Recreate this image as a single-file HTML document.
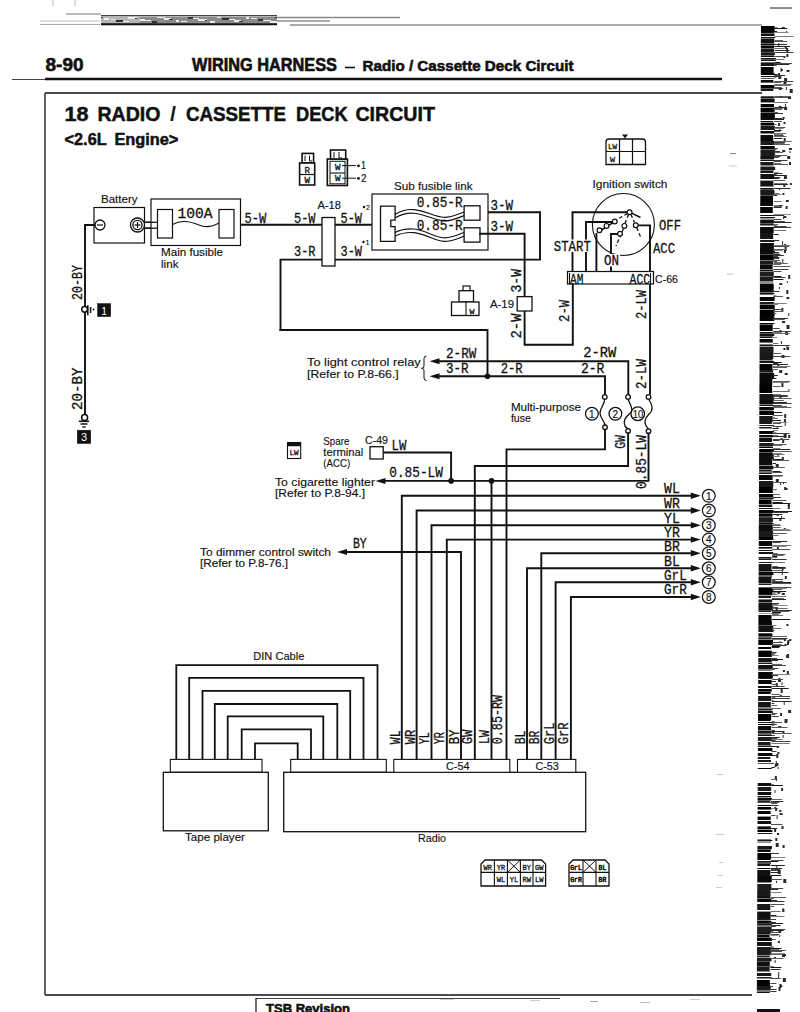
<!DOCTYPE html>
<html><head><meta charset="utf-8"><style>
html,body{margin:0;padding:0;background:#fff;}
body{width:800px;height:1012px;overflow:hidden;}
svg{display:block;}
</style></head><body>
<svg width="800" height="1012" viewBox="0 0 800 1012" style="font-family:'Liberation Sans',sans-serif">
<rect x="0" y="0" width="800" height="1012" fill="#fff"/>
<line x1="290" y1="25" x2="762" y2="25" stroke="#555" stroke-width="1.0"/>
<rect x="101" y="16" width="176" height="8" fill="#b5b5b5"/>
<rect x="140" y="17" width="137" height="6" fill="#8a8a8a"/>
<rect x="101" y="17" width="2" height="1" fill="#333"/>
<rect x="142" y="19" width="3" height="2" fill="#eee"/>
<rect x="183" y="21" width="4" height="1" fill="#eee"/>
<rect x="224" y="18" width="5" height="2" fill="#333"/>
<rect x="265" y="20" width="6" height="1" fill="#eee"/>
<rect x="130" y="17" width="7" height="2" fill="#eee"/>
<rect x="171" y="19" width="2" height="1" fill="#333"/>
<rect x="212" y="21" width="3" height="2" fill="#eee"/>
<rect x="253" y="18" width="4" height="1" fill="#eee"/>
<rect x="118" y="20" width="5" height="2" fill="#333"/>
<rect x="159" y="17" width="6" height="1" fill="#eee"/>
<rect x="200" y="19" width="7" height="2" fill="#eee"/>
<rect x="241" y="21" width="2" height="1" fill="#333"/>
<rect x="106" y="18" width="3" height="2" fill="#eee"/>
<rect x="147" y="20" width="4" height="1" fill="#eee"/>
<rect x="188" y="17" width="5" height="2" fill="#333"/>
<rect x="229" y="19" width="6" height="1" fill="#eee"/>
<rect x="270" y="21" width="7" height="2" fill="#eee"/>
<rect x="135" y="18" width="2" height="1" fill="#333"/>
<rect x="176" y="20" width="3" height="2" fill="#eee"/>
<rect x="217" y="17" width="4" height="1" fill="#eee"/>
<rect x="258" y="19" width="5" height="2" fill="#333"/>
<rect x="123" y="21" width="6" height="1" fill="#eee"/>
<rect x="164" y="18" width="7" height="2" fill="#eee"/>
<rect x="205" y="20" width="2" height="1" fill="#333"/>
<rect x="246" y="17" width="3" height="2" fill="#eee"/>
<rect x="111" y="19" width="4" height="1" fill="#eee"/>
<rect x="152" y="21" width="5" height="2" fill="#333"/>
<rect x="193" y="18" width="6" height="1" fill="#eee"/>
<rect x="234" y="20" width="7" height="2" fill="#eee"/>
<rect x="275" y="17" width="2" height="1" fill="#333"/>
<rect x="140" y="19" width="3" height="2" fill="#eee"/>
<rect x="181" y="21" width="4" height="1" fill="#eee"/>
<rect x="222" y="18" width="5" height="2" fill="#333"/>
<rect x="263" y="20" width="6" height="1" fill="#eee"/>
<rect x="128" y="17" width="7" height="2" fill="#eee"/>
<rect x="169" y="19" width="2" height="1" fill="#333"/>
<rect x="210" y="21" width="3" height="2" fill="#eee"/>
<rect x="251" y="18" width="4" height="1" fill="#eee"/>
<rect x="116" y="20" width="5" height="2" fill="#333"/>
<rect x="157" y="17" width="6" height="1" fill="#eee"/>
<rect x="198" y="19" width="7" height="2" fill="#eee"/>
<rect x="239" y="21" width="2" height="1" fill="#333"/>
<rect x="104" y="18" width="3" height="2" fill="#eee"/>
<rect x="145" y="20" width="4" height="1" fill="#eee"/>
<line x1="101" y1="24.2" x2="277" y2="24.2" stroke="#111" stroke-width="2.0"/>
<line x1="101" y1="15.5" x2="277" y2="15.5" stroke="#444" stroke-width="1.2"/>
<line x1="277" y1="17.5" x2="400" y2="17.5" stroke="#888" stroke-width="1.3"/>
<line x1="277" y1="21" x2="330" y2="21" stroke="#aaa" stroke-width="2.0"/>
<line x1="40" y1="21" x2="100" y2="21" stroke="#bbb" stroke-width="1.0"/>
<line x1="40" y1="24.5" x2="100" y2="24.5" stroke="#aaa" stroke-width="1.0"/>
<line x1="66" y1="14" x2="101" y2="14" stroke="#777" stroke-width="1.0"/>
<line x1="53" y1="0" x2="53" y2="6" stroke="#bbb" stroke-width="1"/>
<line x1="75" y1="0" x2="75" y2="6" stroke="#bbb" stroke-width="1"/>
<text x="45.5" y="71.3" font-family="Liberation Sans" font-size="19" font-weight="bold" fill="#111" text-anchor="start" textLength="38" lengthAdjust="spacingAndGlyphs" stroke="#111" stroke-width="0.6">8-90</text>
<text x="192" y="71.3" font-family="Liberation Sans" font-size="17.5" font-weight="bold" fill="#111" text-anchor="start" textLength="145" lengthAdjust="spacingAndGlyphs" stroke="#111" stroke-width="0.6">WIRING HARNESS</text>
<line x1="345" y1="67.5" x2="355" y2="67.5" stroke="#111" stroke-width="1.6"/>
<text x="362.5" y="71.3" font-family="Liberation Sans" font-size="15.5" font-weight="bold" fill="#111" text-anchor="start" textLength="211" lengthAdjust="spacingAndGlyphs" stroke="#111" stroke-width="0.6">Radio / Cassette Deck Circuit</text>
<line x1="45" y1="79" x2="722" y2="79" stroke="#111" stroke-width="2.6"/>
<line x1="12" y1="79.5" x2="45" y2="79.5" stroke="#444" stroke-width="1.0"/>
<line x1="45" y1="93" x2="762" y2="93" stroke="#111" stroke-width="1.3"/>
<line x1="45" y1="93" x2="45" y2="995" stroke="#111" stroke-width="1.3"/>
<line x1="45" y1="995" x2="752" y2="995" stroke="#111" stroke-width="1.3"/>
<line x1="256" y1="998.5" x2="560" y2="998.5" stroke="#444" stroke-width="1.0"/>
<line x1="256" y1="998" x2="256" y2="1012" stroke="#111" stroke-width="1.2"/>
<text x="266" y="1012.5" font-family="Liberation Sans" font-size="13.5" font-weight="bold" fill="#111" text-anchor="start" textLength="84" lengthAdjust="spacingAndGlyphs" stroke="#111" stroke-width="0.6">TSB Revision</text>
<line x1="770" y1="8" x2="792" y2="8" stroke="#444" stroke-width="1.2"/>
<text x="64.6" y="121.3" font-family="Liberation Sans" font-size="20" font-weight="bold" fill="#111" text-anchor="start" textLength="24" lengthAdjust="spacingAndGlyphs" stroke="#111" stroke-width="0.5">18</text>
<text x="97.4" y="121.3" font-family="Liberation Sans" font-size="20" font-weight="bold" fill="#111" text-anchor="start" textLength="63" lengthAdjust="spacingAndGlyphs" stroke="#111" stroke-width="0.5">RADIO</text>
<text x="170.3" y="121.3" font-family="Liberation Sans" font-size="20" font-weight="bold" fill="#111" text-anchor="start" stroke="#111" stroke-width="0.2">/</text>
<text x="186" y="121.3" font-family="Liberation Sans" font-size="20" font-weight="bold" fill="#111" text-anchor="start" textLength="100" lengthAdjust="spacingAndGlyphs" stroke="#111" stroke-width="0.5">CASSETTE</text>
<text x="296" y="121.3" font-family="Liberation Sans" font-size="20" font-weight="bold" fill="#111" text-anchor="start" textLength="51.7" lengthAdjust="spacingAndGlyphs" stroke="#111" stroke-width="0.5">DECK</text>
<text x="355.4" y="121.3" font-family="Liberation Sans" font-size="20" font-weight="bold" fill="#111" text-anchor="start" textLength="79.5" lengthAdjust="spacingAndGlyphs" stroke="#111" stroke-width="0.5">CIRCUIT</text>
<text x="64.6" y="145.3" font-family="Liberation Sans" font-size="16.5" font-weight="bold" fill="#111" text-anchor="start" textLength="42" lengthAdjust="spacingAndGlyphs" stroke="#111" stroke-width="0.5">&lt;2.6L</text>
<text x="114.4" y="145.3" font-family="Liberation Sans" font-size="16.5" font-weight="bold" fill="#111" text-anchor="start" textLength="64" lengthAdjust="spacingAndGlyphs" stroke="#111" stroke-width="0.5">Engine&gt;</text>
<text x="101" y="203" font-family="Liberation Sans" font-size="11.5" font-weight="normal" fill="#111" text-anchor="start" textLength="36.5" lengthAdjust="spacingAndGlyphs" stroke="#111" stroke-width="0.15">Battery</text>
<rect x="94" y="207.5" width="50.5" height="35.5" fill="#fff" stroke="#111" stroke-width="1.2"/>
<polyline points="95,225 85,225 85,416" fill="none" stroke="#111" stroke-width="1.9" stroke-linejoin="miter" stroke-linecap="square"/>
<circle cx="100" cy="225" r="5" fill="#fff" stroke="#111" stroke-width="1.3"/>
<line x1="97" y1="225" x2="103" y2="225" stroke="#111" stroke-width="1.2"/>
<line x1="144" y1="222.3" x2="158" y2="222.3" stroke="#111" stroke-width="1.3"/>
<line x1="144" y1="228.2" x2="158" y2="228.2" stroke="#111" stroke-width="1.3"/>
<circle cx="137.5" cy="225" r="7" fill="#fff" stroke="#111" stroke-width="1.3"/>
<circle cx="137.5" cy="225" r="4.6" fill="#fff" stroke="#111" stroke-width="1.3"/>
<line x1="134.5" y1="225" x2="140.5" y2="225" stroke="#111" stroke-width="1.2"/>
<line x1="137.5" y1="222" x2="137.5" y2="228" stroke="#111" stroke-width="1.2"/>
<rect x="151" y="199" width="89.5" height="46.5" fill="#fff" stroke="#111" stroke-width="1.2"/>
<rect x="157.5" y="209.5" width="15.0" height="28.5" fill="#fff" stroke="#111" stroke-width="1.2"/>
<rect x="219" y="209.5" width="15" height="28.5" fill="#fff" stroke="#111" stroke-width="1.2"/>
<path d="M172.5,224.5 C182,219 192,222 199,225 S212,227 219,223" fill="none" stroke="#111" stroke-width="1.1"/>
<line x1="144" y1="222.3" x2="157.5" y2="222.3" stroke="#111" stroke-width="1.3"/>
<line x1="144" y1="228.2" x2="157.5" y2="228.2" stroke="#111" stroke-width="1.3"/>
<text x="177.5" y="217.5" font-family="Liberation Mono" font-size="15" font-weight="normal" fill="#111" text-anchor="start" textLength="35" lengthAdjust="spacingAndGlyphs" stroke="#111" stroke-width="0.3">100A</text>
<text x="161" y="256" font-family="Liberation Sans" font-size="11.5" font-weight="normal" fill="#111" text-anchor="start" textLength="62" lengthAdjust="spacingAndGlyphs" stroke="#111" stroke-width="0.15">Main fusible</text>
<text x="161" y="268" font-family="Liberation Sans" font-size="11.5" font-weight="normal" fill="#111" text-anchor="start" textLength="17.5" lengthAdjust="spacingAndGlyphs" stroke="#111" stroke-width="0.15">link</text>
<text transform="translate(81.95,300) rotate(-90)" x="0" y="0" font-family="Liberation Mono" font-size="15" fill="#111" stroke="#111" stroke-width="0.3" textLength="35" lengthAdjust="spacingAndGlyphs">20-BY</text>
<text transform="translate(81.95,410) rotate(-90)" x="0" y="0" font-family="Liberation Mono" font-size="15" fill="#111" stroke="#111" stroke-width="0.3" textLength="42.5" lengthAdjust="spacingAndGlyphs">20-BY</text>
<circle cx="84.6" cy="309.3" r="2.9" fill="#fff" stroke="#111" stroke-width="1.5"/>
<line x1="87.8" y1="305.2" x2="87.8" y2="315.2" stroke="#111" stroke-width="1.6"/>
<line x1="90.6" y1="307" x2="90.6" y2="313" stroke="#111" stroke-width="1.5"/>
<circle cx="93.5" cy="309.5" r="0.9" fill="#111"/>
<rect x="97.6" y="303.6" width="13.100000000000009" height="13.0" fill="#111" stroke="#111" stroke-width="0.5"/>
<text x="104.2" y="314.5" font-family="Liberation Sans" font-size="10.5" font-weight="normal" fill="#fff" text-anchor="middle">1</text>
<circle cx="84.6" cy="417.5" r="3" fill="#fff" stroke="#111" stroke-width="1.5"/>
<line x1="78.8" y1="421.3" x2="89" y2="421.3" stroke="#111" stroke-width="1.6"/>
<line x1="80.5" y1="424" x2="87.5" y2="424" stroke="#111" stroke-width="1.5"/>
<line x1="82.3" y1="427" x2="85.8" y2="427" stroke="#111" stroke-width="1.4"/>
<rect x="77.3" y="430.2" width="13.400000000000006" height="13.300000000000011" fill="#111" stroke="#111" stroke-width="0.5"/>
<text x="84" y="441.2" font-family="Liberation Sans" font-size="11" font-weight="normal" fill="#fff" text-anchor="middle">3</text>
<rect x="302.1" y="153.4" width="11.5" height="9.599999999999994" fill="#fff" stroke="#111" stroke-width="1.6"/>
<line x1="305" y1="155.5" x2="305" y2="161" stroke="#111" stroke-width="1"/>
<line x1="309.5" y1="155.5" x2="309.5" y2="161" stroke="#111" stroke-width="1"/>
<line x1="309.5" y1="161" x2="312" y2="161" stroke="#111" stroke-width="1"/>
<rect x="299.6" y="163" width="15.099999999999966" height="22" fill="#fff" stroke="#111" stroke-width="1.6"/>
<line x1="299.6" y1="174.5" x2="314.7" y2="174.5" stroke="#111" stroke-width="1.2"/>
<text x="304.5" y="172.5" font-family="Liberation Mono" font-size="8.5" font-weight="normal" fill="#111" text-anchor="start" textLength="5.5" lengthAdjust="spacingAndGlyphs" stroke="#111" stroke-width="0.3">R</text>
<text x="304.5" y="183" font-family="Liberation Mono" font-size="8.5" font-weight="normal" fill="#111" text-anchor="start" textLength="5.5" lengthAdjust="spacingAndGlyphs" stroke="#111" stroke-width="0.3">W</text>
<rect x="327.3" y="159" width="20.099999999999966" height="26.5" fill="#fff" stroke="#111" stroke-width="1.6"/>
<rect x="330.5" y="150" width="15.199999999999989" height="9" fill="#fff" stroke="#111" stroke-width="1.6"/>
<rect x="330" y="161.3" width="15" height="22.5" fill="#fff" stroke="#111" stroke-width="1.0"/>
<line x1="330" y1="173" x2="345" y2="173" stroke="#111" stroke-width="1.1"/>
<line x1="334" y1="152" x2="334" y2="158" stroke="#111" stroke-width="1"/>
<line x1="339" y1="152" x2="339" y2="158" stroke="#111" stroke-width="1"/>
<line x1="339" y1="158" x2="342" y2="158" stroke="#111" stroke-width="1"/>
<text x="335" y="169.5" font-family="Liberation Mono" font-size="8.5" font-weight="normal" fill="#111" text-anchor="start" textLength="5.5" lengthAdjust="spacingAndGlyphs" stroke="#111" stroke-width="0.3">W</text>
<text x="335" y="181" font-family="Liberation Mono" font-size="8.5" font-weight="normal" fill="#111" text-anchor="start" textLength="5.5" lengthAdjust="spacingAndGlyphs" stroke="#111" stroke-width="0.3">W</text>
<line x1="342" y1="165.6" x2="356" y2="165.6" stroke="#111" stroke-width="1.0"/>
<line x1="342" y1="178.2" x2="356" y2="178.2" stroke="#111" stroke-width="1.0"/>
<circle cx="358.5" cy="165.8" r="1.4" fill="#111"/>
<circle cx="358.5" cy="178.4" r="1.4" fill="#111"/>
<text x="361" y="169.3" font-family="Liberation Sans" font-size="10" font-weight="normal" fill="#111" text-anchor="start" textLength="5" lengthAdjust="spacingAndGlyphs" stroke="#111" stroke-width="0.15">1</text>
<text x="361" y="182" font-family="Liberation Sans" font-size="10" font-weight="normal" fill="#111" text-anchor="start" textLength="5.5" lengthAdjust="spacingAndGlyphs" stroke="#111" stroke-width="0.15">2</text>
<line x1="240.5" y1="224.7" x2="381" y2="224.7" stroke="#111" stroke-width="1.9"/>
<polyline points="280.5,330 280.5,259.6 540,259.6 540,212.3 480,212.3" fill="none" stroke="#111" stroke-width="1.9" stroke-linejoin="miter" stroke-linecap="square"/>
<rect x="322" y="217.5" width="13" height="48.5" fill="#fff" stroke="#111" stroke-width="1.3"/>
<text x="317.5" y="209" font-family="Liberation Sans" font-size="11.5" font-weight="normal" fill="#111" text-anchor="start" textLength="23.5" lengthAdjust="spacingAndGlyphs" stroke="#111" stroke-width="0.15">A-18</text>
<text x="244.6" y="222.9" font-family="Liberation Mono" font-size="15" font-weight="normal" fill="#111" text-anchor="start" textLength="21.8" lengthAdjust="spacingAndGlyphs" stroke="#111" stroke-width="0.3">5-W</text>
<text x="294" y="222.6" font-family="Liberation Mono" font-size="15" font-weight="normal" fill="#111" text-anchor="start" textLength="21.5" lengthAdjust="spacingAndGlyphs" stroke="#111" stroke-width="0.3">5-W</text>
<text x="340.5" y="222.6" font-family="Liberation Mono" font-size="15" font-weight="normal" fill="#111" text-anchor="start" textLength="21.5" lengthAdjust="spacingAndGlyphs" stroke="#111" stroke-width="0.3">5-W</text>
<circle cx="364" cy="207" r="1.2" fill="#111"/>
<text x="366" y="210" font-family="Liberation Sans" font-size="8" font-weight="normal" fill="#111" text-anchor="start" textLength="4" lengthAdjust="spacingAndGlyphs" stroke="#111" stroke-width="0.15">2</text>
<text x="294" y="256.2" font-family="Liberation Mono" font-size="15" font-weight="normal" fill="#111" text-anchor="start" textLength="21.5" lengthAdjust="spacingAndGlyphs" stroke="#111" stroke-width="0.3">3-R</text>
<text x="340.5" y="256.2" font-family="Liberation Mono" font-size="15" font-weight="normal" fill="#111" text-anchor="start" textLength="21.5" lengthAdjust="spacingAndGlyphs" stroke="#111" stroke-width="0.3">3-W</text>
<circle cx="363.5" cy="242" r="1.2" fill="#111"/>
<text x="365.5" y="245" font-family="Liberation Sans" font-size="8" font-weight="normal" fill="#111" text-anchor="start" textLength="4" lengthAdjust="spacingAndGlyphs" stroke="#111" stroke-width="0.15">1</text>
<text x="394" y="189.5" font-family="Liberation Sans" font-size="11.5" font-weight="normal" fill="#111" text-anchor="start" textLength="78.5" lengthAdjust="spacingAndGlyphs" stroke="#111" stroke-width="0.15">Sub fusible link</text>
<rect x="372" y="194" width="116" height="56" fill="#fff" stroke="#111" stroke-width="1.2"/>
<polygon points="380.5,206.2 395.1,206.2 395.1,220.2 390.8,220.2 390.8,226.6 395.1,226.6 395.1,241.3 380.5,241.3" fill="#fff" stroke="#111" stroke-width="1.3"/>
<rect x="464.1" y="205.8" width="15.899999999999977" height="14.399999999999977" fill="#fff" stroke="#111" stroke-width="1.3"/>
<rect x="464.1" y="227.8" width="15.899999999999977" height="14.299999999999983" fill="#fff" stroke="#111" stroke-width="1.3"/>
<path d="M395.1,214.4 C402,210 408,209.2 414,209.6 C425,210.5 435,217 444,217.3 C452,217.5 458,214 464.1,212" fill="none" stroke="#111" stroke-width="1.15"/>
<path d="M395.1,232.4 C402,229 408,228.6 414,229 C425,230 435,237.6 444,237.8 C452,238 458,234.8 464.1,232.5" fill="none" stroke="#111" stroke-width="1.15"/>
<path d="M395.1,218.0 C402,213.6 408,212.79999999999998 414,213.2 C425,214.1 435,220.6 444,220.9 C452,221.1 458,217.6 464.1,215.6" fill="none" stroke="#111" stroke-width="1.15"/>
<path d="M395.1,236.0 C402,232.6 408,232.2 414,232.6 C425,233.6 435,241.2 444,241.4 C452,241.6 458,238.4 464.1,236.1" fill="none" stroke="#111" stroke-width="1.15"/>
<text x="416.7" y="206.5" font-family="Liberation Mono" font-size="15" font-weight="normal" fill="#111" text-anchor="start" textLength="46" lengthAdjust="spacingAndGlyphs" stroke="#111" stroke-width="0.3">0.85-R</text>
<text x="416.7" y="230.2" font-family="Liberation Mono" font-size="15" font-weight="normal" fill="#111" text-anchor="start" textLength="46" lengthAdjust="spacingAndGlyphs" stroke="#111" stroke-width="0.3">0.85-R</text>
<text x="490.5" y="209.5" font-family="Liberation Mono" font-size="15" font-weight="normal" fill="#111" text-anchor="start" textLength="22.5" lengthAdjust="spacingAndGlyphs" stroke="#111" stroke-width="0.3">3-W</text>
<text x="490.5" y="231" font-family="Liberation Mono" font-size="15" font-weight="normal" fill="#111" text-anchor="start" textLength="22.5" lengthAdjust="spacingAndGlyphs" stroke="#111" stroke-width="0.3">3-W</text>
<polyline points="480,233.8 524.6,233.8 524.6,297" fill="none" stroke="#111" stroke-width="1.9" stroke-linejoin="miter" stroke-linecap="square"/>
<path d="M606,164.5 L606,142 Q606,139 609,139 L642.5,139 Q645.5,139 645.5,142 L645.5,164.5 Z" fill="#fff" stroke="#111" stroke-width="1.3"/>
<line x1="619.5" y1="139" x2="619.5" y2="164.5" stroke="#111" stroke-width="1.2"/>
<line x1="632.5" y1="139" x2="632.5" y2="164.5" stroke="#111" stroke-width="1.2"/>
<line x1="606" y1="151.5" x2="645.5" y2="151.5" stroke="#111" stroke-width="1.2"/>
<polygon points="622,134.5 628,134.5 625,138.5" fill="#111"/>
<text x="608" y="149" font-family="Liberation Mono" font-size="7.5" font-weight="normal" fill="#111" text-anchor="start" textLength="9" lengthAdjust="spacingAndGlyphs" stroke="#111" stroke-width="0.3">LW</text>
<text x="610" y="161.5" font-family="Liberation Mono" font-size="8" font-weight="normal" fill="#111" text-anchor="start" textLength="5" lengthAdjust="spacingAndGlyphs" stroke="#111" stroke-width="0.3">W</text>
<text x="592.5" y="188" font-family="Liberation Sans" font-size="11.5" font-weight="normal" fill="#111" text-anchor="start" textLength="75" lengthAdjust="spacingAndGlyphs" stroke="#111" stroke-width="0.15">Ignition switch</text>
<circle cx="623.4" cy="224.5" r="31" fill="none" stroke="#111" stroke-width="1.1"/>
<polyline points="572.5,271.5 572.5,212.2 627,212.2" fill="none" stroke="#111" stroke-width="1.9" stroke-linejoin="miter" stroke-linecap="square"/>
<polyline points="586,271.5 586,222 612.5,222" fill="none" stroke="#111" stroke-width="1.9" stroke-linejoin="miter" stroke-linecap="square"/>
<line x1="596.4" y1="233" x2="596.4" y2="271.5" stroke="#111" stroke-width="1.9"/>
<polyline points="611,271.5 611,234 618,234" fill="none" stroke="#111" stroke-width="1.9" stroke-linejoin="miter" stroke-linecap="square"/>
<polyline points="650,271.5 650,225.4 638,225.4" fill="none" stroke="#111" stroke-width="1.9" stroke-linejoin="miter" stroke-linecap="square"/>
<line x1="597.5" y1="232.5" x2="617" y2="220.2" stroke="#111" stroke-width="1.5"/>
<line x1="629.6" y1="212.2" x2="640.5" y2="217.5" stroke="#111" stroke-width="1.5"/>
<g stroke="#111" stroke-width="1.3" stroke-dasharray="3.5,2.5" fill="none"><line x1="627.5" y1="213.5" x2="617" y2="219.5"/><line x1="628.5" y1="214.5" x2="625" y2="223.5"/><line x1="623.5" y1="228.5" x2="616" y2="246"/><line x1="631" y1="214.5" x2="634.5" y2="222.5"/><line x1="636.8" y1="227.8" x2="641" y2="238"/></g>
<circle cx="629.6" cy="212.2" r="2.4" fill="#fff" stroke="#111" stroke-width="1.2"/>
<circle cx="614.75" cy="221.5" r="2.4" fill="#fff" stroke="#111" stroke-width="1.2"/>
<circle cx="606.5" cy="225.9" r="2.4" fill="#fff" stroke="#111" stroke-width="1.2"/>
<circle cx="599.5" cy="230.2" r="2.4" fill="#fff" stroke="#111" stroke-width="1.2"/>
<circle cx="624.4" cy="225.9" r="2.4" fill="#fff" stroke="#111" stroke-width="1.2"/>
<circle cx="620" cy="233.75" r="2.4" fill="#fff" stroke="#111" stroke-width="1.2"/>
<circle cx="635.75" cy="225.2" r="2.4" fill="#fff" stroke="#111" stroke-width="1.2"/>
<text x="659" y="230" font-family="Liberation Mono" font-size="15" font-weight="normal" fill="#111" text-anchor="start" textLength="22" lengthAdjust="spacingAndGlyphs" stroke="#111" stroke-width="0.3">OFF</text>
<text x="653" y="252.5" font-family="Liberation Mono" font-size="15" font-weight="normal" fill="#111" text-anchor="start" textLength="22" lengthAdjust="spacingAndGlyphs" stroke="#111" stroke-width="0.3">ACC</text>
<rect x="553" y="239.5" width="38.5" height="12.5" fill="#fff"/>
<text x="553.8" y="250.5" font-family="Liberation Mono" font-size="15" font-weight="normal" fill="#111" text-anchor="start" textLength="37" lengthAdjust="spacingAndGlyphs" stroke="#111" stroke-width="0.3">START</text>
<rect x="603" y="254" width="17" height="12.5" fill="#fff"/>
<text x="604" y="265" font-family="Liberation Mono" font-size="15" font-weight="normal" fill="#111" text-anchor="start" textLength="15" lengthAdjust="spacingAndGlyphs" stroke="#111" stroke-width="0.3">ON</text>
<rect x="567.5" y="271.5" width="86.0" height="12.5" fill="#fff" stroke="#111" stroke-width="1.2"/>
<line x1="569.5" y1="273" x2="569.5" y2="284" stroke="#111" stroke-width="1.1"/>
<line x1="650.5" y1="273" x2="650.5" y2="284" stroke="#111" stroke-width="1.1"/>
<text x="570" y="283.6" font-family="Liberation Mono" font-size="15" font-weight="normal" fill="#111" text-anchor="start" textLength="13.5" lengthAdjust="spacingAndGlyphs" stroke="#111" stroke-width="0.3">AM</text>
<text x="629.6" y="283.6" font-family="Liberation Mono" font-size="15" font-weight="normal" fill="#111" text-anchor="start" textLength="20.5" lengthAdjust="spacingAndGlyphs" stroke="#111" stroke-width="0.3">ACC</text>
<text x="655" y="283.2" font-family="Liberation Sans" font-size="11.5" font-weight="normal" fill="#111" text-anchor="start" textLength="23" lengthAdjust="spacingAndGlyphs" stroke="#111" stroke-width="0.15">C-66</text>
<polyline points="572.8,284 572.8,344.8 524.6,344.8 524.6,311" fill="none" stroke="#111" stroke-width="1.9" stroke-linejoin="miter" stroke-linecap="square"/>
<rect x="517.2" y="296.6" width="14.799999999999955" height="14.399999999999977" fill="#fff" stroke="#111" stroke-width="1.3"/>
<text x="490" y="308" font-family="Liberation Sans" font-size="11.5" font-weight="normal" fill="#111" text-anchor="start" textLength="24" lengthAdjust="spacingAndGlyphs" stroke="#111" stroke-width="0.15">A-19</text>
<text transform="translate(520.95,292.5) rotate(-90)" x="0" y="0" font-family="Liberation Mono" font-size="15" fill="#111" stroke="#111" stroke-width="0.3" textLength="23.5" lengthAdjust="spacingAndGlyphs">3-W</text>
<text transform="translate(521.35,338.4) rotate(-90)" x="0" y="0" font-family="Liberation Mono" font-size="15" fill="#111" stroke="#111" stroke-width="0.3" textLength="24.799999999999955" lengthAdjust="spacingAndGlyphs">2-W</text>
<text transform="translate(569.45,321.9) rotate(-90)" x="0" y="0" font-family="Liberation Mono" font-size="15" fill="#111" stroke="#111" stroke-width="0.3" textLength="22.0" lengthAdjust="spacingAndGlyphs">2-W</text>
<text transform="translate(646.45,319) rotate(-90)" x="0" y="0" font-family="Liberation Mono" font-size="15" fill="#111" stroke="#111" stroke-width="0.3" textLength="29" lengthAdjust="spacingAndGlyphs">2-LW</text>
<text transform="translate(646.45,389) rotate(-90)" x="0" y="0" font-family="Liberation Mono" font-size="15" fill="#111" stroke="#111" stroke-width="0.3" textLength="30" lengthAdjust="spacingAndGlyphs">2-LW</text>
<line x1="650" y1="284" x2="650" y2="394.6" stroke="#111" stroke-width="1.9"/>
<rect x="463" y="286" width="7" height="4.699999999999989" fill="#fff" stroke="#111" stroke-width="1.2"/>
<rect x="459" y="290.7" width="14.5" height="11.300000000000011" fill="#fff" stroke="#111" stroke-width="1.3"/>
<rect x="451.5" y="302" width="27.5" height="13.5" fill="#fff" stroke="#111" stroke-width="1.3"/>
<line x1="466" y1="302" x2="466" y2="315.5" stroke="#111" stroke-width="1.1"/>
<text x="469.5" y="313.5" font-family="Liberation Mono" font-size="8" font-weight="normal" fill="#111" text-anchor="start" textLength="5" lengthAdjust="spacingAndGlyphs" stroke="#111" stroke-width="0.3">W</text>
<polyline points="280.5,330 487.5,330 487.5,376.3" fill="none" stroke="#111" stroke-width="1.9" stroke-linejoin="miter" stroke-linecap="square"/>
<polyline points="436,361.3 628.3,361.3 628.3,394.6" fill="none" stroke="#111" stroke-width="1.9" stroke-linejoin="miter" stroke-linecap="square"/>
<polyline points="436,376.3 605,376.3 605,394.6" fill="none" stroke="#111" stroke-width="1.9" stroke-linejoin="miter" stroke-linecap="square"/>
<polygon points="429.5,361.3 439.5,358.3 439.5,364.3" fill="#111"/>
<polygon points="429.5,376.3 439.5,373.3 439.5,379.3" fill="#111"/>
<circle cx="487.5" cy="376.3" r="2.8" fill="#111"/>
<text x="446" y="358" font-family="Liberation Mono" font-size="15" font-weight="normal" fill="#111" text-anchor="start" textLength="30.3" lengthAdjust="spacingAndGlyphs" stroke="#111" stroke-width="0.3">2-RW</text>
<text x="446" y="373.2" font-family="Liberation Mono" font-size="15" font-weight="normal" fill="#111" text-anchor="start" textLength="22.6" lengthAdjust="spacingAndGlyphs" stroke="#111" stroke-width="0.3">3-R</text>
<text x="500.7" y="372.8" font-family="Liberation Mono" font-size="15" font-weight="normal" fill="#111" text-anchor="start" textLength="22" lengthAdjust="spacingAndGlyphs" stroke="#111" stroke-width="0.3">2-R</text>
<text x="583.2" y="356.8" font-family="Liberation Mono" font-size="15" font-weight="normal" fill="#111" text-anchor="start" textLength="33" lengthAdjust="spacingAndGlyphs" stroke="#111" stroke-width="0.3">2-RW</text>
<text x="581" y="372.8" font-family="Liberation Mono" font-size="15" font-weight="normal" fill="#111" text-anchor="start" textLength="23.4" lengthAdjust="spacingAndGlyphs" stroke="#111" stroke-width="0.3">2-R</text>
<path d="M426.5,356 Q424,356 424,358.5 L424,366 Q424,368.3 421.5,368.3 Q424,368.3 424,370.6 L424,378 Q424,380.6 426.5,380.6" fill="none" stroke="#111" stroke-width="1.0"/>
<text x="307" y="366.3" font-family="Liberation Sans" font-size="11.5" font-weight="normal" fill="#111" text-anchor="start" textLength="113.7" lengthAdjust="spacingAndGlyphs" stroke="#111" stroke-width="0.15">To light control relay</text>
<text x="307" y="377.9" font-family="Liberation Sans" font-size="11.5" font-weight="normal" fill="#111" text-anchor="start" textLength="91.7" lengthAdjust="spacingAndGlyphs" stroke="#111" stroke-width="0.15">[Refer to P.8-66.]</text>
<text x="510.9" y="411.3" font-family="Liberation Sans" font-size="11.5" font-weight="normal" fill="#111" text-anchor="start" textLength="70" lengthAdjust="spacingAndGlyphs" stroke="#111" stroke-width="0.15">Multi-purpose</text>
<text x="510.9" y="421.7" font-family="Liberation Sans" font-size="11.5" font-weight="normal" fill="#111" text-anchor="start" textLength="20" lengthAdjust="spacingAndGlyphs" stroke="#111" stroke-width="0.15">fuse</text>
<path d="M604.75,399 C604.5,405 600,408 600,413 C600,418 604.5,421 605,425" fill="none" stroke="#111" stroke-width="1.3"/>
<path d="M628.1,399 C629,403 633,407 631.5,411.5 C629.5,415 624.5,416 624.3,422 C624.2,426 626.5,428 628.1,428.7" fill="none" stroke="#111" stroke-width="1.3"/>
<path d="M648.5,399 C650.5,402 653.5,406 651.5,411 C649.5,414.5 645.5,416 645,421 C644.8,425 647,427.5 648.5,429" fill="none" stroke="#111" stroke-width="1.3"/>
<circle cx="604.75" cy="396.9" r="2.3" fill="#fff" stroke="#111" stroke-width="1.3"/>
<circle cx="605" cy="427.3" r="2.3" fill="#fff" stroke="#111" stroke-width="1.3"/>
<circle cx="628.1" cy="396.9" r="2.3" fill="#fff" stroke="#111" stroke-width="1.3"/>
<circle cx="628.1" cy="431" r="2.3" fill="#fff" stroke="#111" stroke-width="1.3"/>
<circle cx="648.5" cy="396.9" r="2.3" fill="#fff" stroke="#111" stroke-width="1.3"/>
<circle cx="648.5" cy="431.2" r="2.3" fill="#fff" stroke="#111" stroke-width="1.3"/>
<circle cx="591.9" cy="413.75" r="6.4" fill="#fff" stroke="#111" stroke-width="1.3"/>
<text x="591.9" y="417.5" font-family="Liberation Sans" font-size="10" font-weight="normal" fill="#111" text-anchor="middle" stroke="#111" stroke-width="0.15">1</text>
<circle cx="615.4" cy="413.75" r="6.4" fill="#fff" stroke="#111" stroke-width="1.3"/>
<text x="615.4" y="417.5" font-family="Liberation Sans" font-size="10" font-weight="normal" fill="#111" text-anchor="middle" stroke="#111" stroke-width="0.15">2</text>
<circle cx="637.75" cy="413.75" r="6.8" fill="#fff" stroke="#111" stroke-width="1.3"/>
<text x="637.9" y="417.6" font-family="Liberation Sans" font-size="10.5" font-weight="normal" fill="#111" text-anchor="middle" textLength="10.5" lengthAdjust="spacingAndGlyphs" stroke="#111" stroke-width="0.15">10</text>
<polyline points="605,429.6 605,449.4 506.5,449.4 506.5,759.4" fill="none" stroke="#111" stroke-width="1.9" stroke-linejoin="miter" stroke-linecap="square"/>
<polyline points="628.1,433.3 628.1,466 474.8,466 474.8,759.4" fill="none" stroke="#111" stroke-width="1.9" stroke-linejoin="miter" stroke-linecap="square"/>
<polyline points="385,480.9 648.5,480.9 648.5,433.5" fill="none" stroke="#111" stroke-width="1.9" stroke-linejoin="miter" stroke-linecap="square"/>
<polygon points="375.5,480.9 385.5,477.9 385.5,483.9" fill="#111"/>
<text transform="translate(624.95,448.8) rotate(-90)" x="0" y="0" font-family="Liberation Mono" font-size="15" fill="#111" stroke="#111" stroke-width="0.3" textLength="13.800000000000011" lengthAdjust="spacingAndGlyphs">GW</text>
<text transform="translate(646.25,489) rotate(-90)" x="0" y="0" font-family="Liberation Mono" font-size="15" fill="#111" stroke="#111" stroke-width="0.3" textLength="54" lengthAdjust="spacingAndGlyphs">0.85-LW</text>
<rect x="287.5" y="442.5" width="13.199999999999989" height="16.0" fill="#fff" stroke="#111" stroke-width="1.1"/>
<rect x="287.5" y="442.5" width="13.199999999999989" height="3.5" fill="#111" stroke="#111" stroke-width="0.5"/>
<text x="289.5" y="454.5" font-family="Liberation Mono" font-size="7" font-weight="normal" fill="#111" text-anchor="start" textLength="9" lengthAdjust="spacingAndGlyphs" stroke="#111" stroke-width="0.3">LW</text>
<text x="323.3" y="444.75" font-family="Liberation Sans" font-size="11.5" font-weight="normal" fill="#111" text-anchor="start" textLength="26" lengthAdjust="spacingAndGlyphs" stroke="#111" stroke-width="0.15">Spare</text>
<text x="323.3" y="455.75" font-family="Liberation Sans" font-size="11.5" font-weight="normal" fill="#111" text-anchor="start" textLength="40" lengthAdjust="spacingAndGlyphs" stroke="#111" stroke-width="0.15">terminal</text>
<text x="323.3" y="466.75" font-family="Liberation Sans" font-size="11.5" font-weight="normal" fill="#111" text-anchor="start" textLength="27" lengthAdjust="spacingAndGlyphs" stroke="#111" stroke-width="0.15">(ACC)</text>
<text x="365" y="444.2" font-family="Liberation Sans" font-size="11.5" font-weight="normal" fill="#111" text-anchor="start" textLength="23" lengthAdjust="spacingAndGlyphs" stroke="#111" stroke-width="0.15">C-49</text>
<polyline points="383.2,452.5 451.1,452.5 451.1,480.9" fill="none" stroke="#111" stroke-width="1.9" stroke-linejoin="miter" stroke-linecap="square"/>
<rect x="370" y="446.7" width="13.199999999999989" height="12.300000000000011" fill="#fff" stroke="#111" stroke-width="1.3"/>
<circle cx="451.1" cy="480.9" r="2.8" fill="#111"/>
<text x="391.5" y="449.7" font-family="Liberation Mono" font-size="15" font-weight="normal" fill="#111" text-anchor="start" textLength="14.8" lengthAdjust="spacingAndGlyphs" stroke="#111" stroke-width="0.3">LW</text>
<text x="389.3" y="477.2" font-family="Liberation Mono" font-size="15" font-weight="normal" fill="#111" text-anchor="start" textLength="53.6" lengthAdjust="spacingAndGlyphs" stroke="#111" stroke-width="0.3">0.85-LW</text>
<text x="275" y="486" font-family="Liberation Sans" font-size="11.5" font-weight="normal" fill="#111" text-anchor="start" textLength="100" lengthAdjust="spacingAndGlyphs" stroke="#111" stroke-width="0.15">To cigarette lighter</text>
<text x="275" y="497" font-family="Liberation Sans" font-size="11.5" font-weight="normal" fill="#111" text-anchor="start" textLength="90" lengthAdjust="spacingAndGlyphs" stroke="#111" stroke-width="0.15">[Refer to P.8-94.]</text>
<circle cx="491.5" cy="480.9" r="2.8" fill="#111"/>
<line x1="491.5" y1="480.9" x2="491.5" y2="759.4" stroke="#111" stroke-width="1.9"/>
<polyline points="401.8,759.4 401.8,495.8 692,495.8" fill="none" stroke="#111" stroke-width="1.9" stroke-linejoin="miter" stroke-linecap="square"/>
<polygon points="700.8,495.8 690.8,492.6 690.8,499.0" fill="#111"/>
<circle cx="708.8" cy="495.8" r="6.4" fill="#fff" stroke="#111" stroke-width="1.2"/>
<text x="708.8" y="499.5" font-family="Liberation Sans" font-size="10" font-weight="normal" fill="#111" text-anchor="middle" stroke="#111" stroke-width="0.15">1</text>
<text x="664" y="493.2" font-family="Liberation Mono" font-size="15" font-weight="normal" fill="#111" text-anchor="start" textLength="15.8" lengthAdjust="spacingAndGlyphs" stroke="#111" stroke-width="0.3">WL</text>
<polyline points="416.6,759.4 416.6,510.5 692,510.5" fill="none" stroke="#111" stroke-width="1.9" stroke-linejoin="miter" stroke-linecap="square"/>
<polygon points="700.8,510.5 690.8,507.3 690.8,513.7" fill="#111"/>
<circle cx="708.8" cy="510.5" r="6.4" fill="#fff" stroke="#111" stroke-width="1.2"/>
<text x="708.8" y="514.2" font-family="Liberation Sans" font-size="10" font-weight="normal" fill="#111" text-anchor="middle" stroke="#111" stroke-width="0.15">2</text>
<text x="664" y="507.9" font-family="Liberation Mono" font-size="15" font-weight="normal" fill="#111" text-anchor="start" textLength="15.8" lengthAdjust="spacingAndGlyphs" stroke="#111" stroke-width="0.3">WR</text>
<polyline points="431.5,759.4 431.5,525.2 692,525.2" fill="none" stroke="#111" stroke-width="1.9" stroke-linejoin="miter" stroke-linecap="square"/>
<polygon points="700.8,525.2 690.8,522.0 690.8,528.4000000000001" fill="#111"/>
<circle cx="708.8" cy="525.2" r="6.4" fill="#fff" stroke="#111" stroke-width="1.2"/>
<text x="708.8" y="528.9000000000001" font-family="Liberation Sans" font-size="10" font-weight="normal" fill="#111" text-anchor="middle" stroke="#111" stroke-width="0.15">3</text>
<text x="664" y="522.6" font-family="Liberation Mono" font-size="15" font-weight="normal" fill="#111" text-anchor="start" textLength="15.8" lengthAdjust="spacingAndGlyphs" stroke="#111" stroke-width="0.3">YL</text>
<polyline points="446.8,759.4 446.8,539.6 692,539.6" fill="none" stroke="#111" stroke-width="1.9" stroke-linejoin="miter" stroke-linecap="square"/>
<polygon points="700.8,539.6 690.8,536.4 690.8,542.8000000000001" fill="#111"/>
<circle cx="708.8" cy="539.6" r="6.4" fill="#fff" stroke="#111" stroke-width="1.2"/>
<text x="708.8" y="543.3000000000001" font-family="Liberation Sans" font-size="10" font-weight="normal" fill="#111" text-anchor="middle" stroke="#111" stroke-width="0.15">4</text>
<text x="664" y="537.0" font-family="Liberation Mono" font-size="15" font-weight="normal" fill="#111" text-anchor="start" textLength="15.8" lengthAdjust="spacingAndGlyphs" stroke="#111" stroke-width="0.3">YR</text>
<polyline points="541.3,759.4 541.3,553.2 692,553.2" fill="none" stroke="#111" stroke-width="1.9" stroke-linejoin="miter" stroke-linecap="square"/>
<polygon points="700.8,553.2 690.8,550.0 690.8,556.4000000000001" fill="#111"/>
<circle cx="708.8" cy="553.2" r="6.4" fill="#fff" stroke="#111" stroke-width="1.2"/>
<text x="708.8" y="556.9000000000001" font-family="Liberation Sans" font-size="10" font-weight="normal" fill="#111" text-anchor="middle" stroke="#111" stroke-width="0.15">5</text>
<text x="664" y="550.6" font-family="Liberation Mono" font-size="15" font-weight="normal" fill="#111" text-anchor="start" textLength="15.8" lengthAdjust="spacingAndGlyphs" stroke="#111" stroke-width="0.3">BR</text>
<polyline points="527.0,759.4 527.0,568.3 692,568.3" fill="none" stroke="#111" stroke-width="1.9" stroke-linejoin="miter" stroke-linecap="square"/>
<polygon points="700.8,568.3 690.8,565.0999999999999 690.8,571.5" fill="#111"/>
<circle cx="708.8" cy="568.3" r="6.4" fill="#fff" stroke="#111" stroke-width="1.2"/>
<text x="708.8" y="572.0" font-family="Liberation Sans" font-size="10" font-weight="normal" fill="#111" text-anchor="middle" stroke="#111" stroke-width="0.15">6</text>
<text x="664" y="565.6999999999999" font-family="Liberation Mono" font-size="15" font-weight="normal" fill="#111" text-anchor="start" textLength="15.8" lengthAdjust="spacingAndGlyphs" stroke="#111" stroke-width="0.3">BL</text>
<polyline points="555.6,759.4 555.6,582.3 692,582.3" fill="none" stroke="#111" stroke-width="1.9" stroke-linejoin="miter" stroke-linecap="square"/>
<polygon points="700.8,582.3 690.8,579.0999999999999 690.8,585.5" fill="#111"/>
<circle cx="708.8" cy="582.3" r="6.4" fill="#fff" stroke="#111" stroke-width="1.2"/>
<text x="708.8" y="586.0" font-family="Liberation Sans" font-size="10" font-weight="normal" fill="#111" text-anchor="middle" stroke="#111" stroke-width="0.15">7</text>
<text x="664" y="579.6999999999999" font-family="Liberation Mono" font-size="15" font-weight="normal" fill="#111" text-anchor="start" textLength="22.8" lengthAdjust="spacingAndGlyphs" stroke="#111" stroke-width="0.3">GrL</text>
<polyline points="570.9,759.4 570.9,597.0 692,597.0" fill="none" stroke="#111" stroke-width="1.9" stroke-linejoin="miter" stroke-linecap="square"/>
<polygon points="700.8,597.0 690.8,593.8 690.8,600.2" fill="#111"/>
<circle cx="708.8" cy="597.0" r="6.4" fill="#fff" stroke="#111" stroke-width="1.2"/>
<text x="708.8" y="600.7" font-family="Liberation Sans" font-size="10" font-weight="normal" fill="#111" text-anchor="middle" stroke="#111" stroke-width="0.15">8</text>
<text x="664" y="594.4" font-family="Liberation Mono" font-size="15" font-weight="normal" fill="#111" text-anchor="start" textLength="22.8" lengthAdjust="spacingAndGlyphs" stroke="#111" stroke-width="0.3">GrR</text>
<polyline points="461,759.4 461,552 346,552" fill="none" stroke="#111" stroke-width="1.9" stroke-linejoin="miter" stroke-linecap="square"/>
<polygon points="337,552 347,549 347,555" fill="#111"/>
<text x="353" y="547.9" font-family="Liberation Mono" font-size="15" font-weight="normal" fill="#111" text-anchor="start" textLength="13.7" lengthAdjust="spacingAndGlyphs" stroke="#111" stroke-width="0.3">BY</text>
<text x="200" y="556" font-family="Liberation Sans" font-size="11.5" font-weight="normal" fill="#111" text-anchor="start" textLength="131" lengthAdjust="spacingAndGlyphs" stroke="#111" stroke-width="0.15">To dimmer control switch</text>
<text x="200" y="567" font-family="Liberation Sans" font-size="11.5" font-weight="normal" fill="#111" text-anchor="start" textLength="88" lengthAdjust="spacingAndGlyphs" stroke="#111" stroke-width="0.15">[Refer to P.8-76.]</text>
<text x="253.3" y="660.3" font-family="Liberation Sans" font-size="11.5" font-weight="normal" fill="#111" text-anchor="start" textLength="51" lengthAdjust="spacingAndGlyphs" stroke="#111" stroke-width="0.15">DIN Cable</text>
<polyline points="176.3,759.4 176.3,665.2 377.5,665.2 377.5,759.4" fill="none" stroke="#111" stroke-width="1.8" stroke-linejoin="miter" stroke-linecap="square"/>
<polyline points="189.2,759.4 189.2,677.8 363.5,677.8 363.5,759.4" fill="none" stroke="#111" stroke-width="1.8" stroke-linejoin="miter" stroke-linecap="square"/>
<polyline points="202.5,759.4 202.5,690.8 350.2,690.8 350.2,759.4" fill="none" stroke="#111" stroke-width="1.8" stroke-linejoin="miter" stroke-linecap="square"/>
<polyline points="214.8,759.4 214.8,704 337.3,704 337.3,759.4" fill="none" stroke="#111" stroke-width="1.8" stroke-linejoin="miter" stroke-linecap="square"/>
<polyline points="227.7,759.4 227.7,716.3 323.3,716.3 323.3,759.4" fill="none" stroke="#111" stroke-width="1.8" stroke-linejoin="miter" stroke-linecap="square"/>
<polyline points="241.7,759.4 241.7,729.3 311,729.3 311,759.4" fill="none" stroke="#111" stroke-width="1.8" stroke-linejoin="miter" stroke-linecap="square"/>
<polyline points="255,759.4 255,743.3 297.7,743.3 297.7,759.4" fill="none" stroke="#111" stroke-width="1.8" stroke-linejoin="miter" stroke-linecap="square"/>
<rect x="170.3" y="759.4" width="91.69999999999999" height="12.899999999999977" fill="#fff" stroke="#111" stroke-width="1.1"/>
<rect x="163.3" y="772.3" width="105.0" height="58.5" fill="#fff" stroke="#111" stroke-width="1.3"/>
<rect x="290.7" y="759.4" width="95.60000000000002" height="12.899999999999977" fill="#fff" stroke="#111" stroke-width="1.1"/>
<rect x="283.7" y="772.3" width="302.00000000000006" height="59.40000000000009" fill="#fff" stroke="#111" stroke-width="1.3"/>
<rect x="393.8" y="759.4" width="116.0" height="12.899999999999977" fill="#fff" stroke="#111" stroke-width="1.1"/>
<rect x="517.5" y="759.4" width="58.299999999999955" height="12.899999999999977" fill="#fff" stroke="#111" stroke-width="1.1"/>
<text x="446" y="770.4" font-family="Liberation Sans" font-size="11.5" font-weight="normal" fill="#111" text-anchor="start" textLength="23.4" lengthAdjust="spacingAndGlyphs" stroke="#111" stroke-width="0.15">C-54</text>
<text x="535.4" y="770.4" font-family="Liberation Sans" font-size="11.5" font-weight="normal" fill="#111" text-anchor="start" textLength="23.4" lengthAdjust="spacingAndGlyphs" stroke="#111" stroke-width="0.15">C-53</text>
<text x="185" y="841.3" font-family="Liberation Sans" font-size="11.5" font-weight="normal" fill="#111" text-anchor="start" textLength="60" lengthAdjust="spacingAndGlyphs" stroke="#111" stroke-width="0.15">Tape player</text>
<text x="418" y="841.9" font-family="Liberation Sans" font-size="11.5" font-weight="normal" fill="#111" text-anchor="start" textLength="28" lengthAdjust="spacingAndGlyphs" stroke="#111" stroke-width="0.15">Radio</text>
<text transform="translate(400.15,744.3) rotate(-90)" x="0" y="0" font-family="Liberation Mono" font-size="15" fill="#111" stroke="#111" stroke-width="0.3" textLength="13.899999999999977" lengthAdjust="spacingAndGlyphs">WL</text>
<text transform="translate(415.15,744.3) rotate(-90)" x="0" y="0" font-family="Liberation Mono" font-size="15" fill="#111" stroke="#111" stroke-width="0.3" textLength="14.699999999999932" lengthAdjust="spacingAndGlyphs">WR</text>
<text transform="translate(429.45,744.3) rotate(-90)" x="0" y="0" font-family="Liberation Mono" font-size="15" fill="#111" stroke="#111" stroke-width="0.3" textLength="12.299999999999955" lengthAdjust="spacingAndGlyphs">YL</text>
<text transform="translate(443.95,744.3) rotate(-90)" x="0" y="0" font-family="Liberation Mono" font-size="15" fill="#111" stroke="#111" stroke-width="0.3" textLength="12.299999999999955" lengthAdjust="spacingAndGlyphs">YR</text>
<text transform="translate(459.05,744.3) rotate(-90)" x="0" y="0" font-family="Liberation Mono" font-size="15" fill="#111" stroke="#111" stroke-width="0.3" textLength="14.799999999999955" lengthAdjust="spacingAndGlyphs">BY</text>
<text transform="translate(472.45,744.3) rotate(-90)" x="0" y="0" font-family="Liberation Mono" font-size="15" fill="#111" stroke="#111" stroke-width="0.3" textLength="14.799999999999955" lengthAdjust="spacingAndGlyphs">GW</text>
<text transform="translate(488.65,744.3) rotate(-90)" x="0" y="0" font-family="Liberation Mono" font-size="15" fill="#111" stroke="#111" stroke-width="0.3" textLength="14.299999999999955" lengthAdjust="spacingAndGlyphs">LW</text>
<text transform="translate(501.95,744.3) rotate(-90)" x="0" y="0" font-family="Liberation Mono" font-size="15" fill="#111" stroke="#111" stroke-width="0.3" textLength="49.5" lengthAdjust="spacingAndGlyphs">0.85-RW</text>
<text transform="translate(525.25,744.3) rotate(-90)" x="0" y="0" font-family="Liberation Mono" font-size="15" fill="#111" stroke="#111" stroke-width="0.3" textLength="13.799999999999955" lengthAdjust="spacingAndGlyphs">BL</text>
<text transform="translate(538.95,744.3) rotate(-90)" x="0" y="0" font-family="Liberation Mono" font-size="15" fill="#111" stroke="#111" stroke-width="0.3" textLength="13.799999999999955" lengthAdjust="spacingAndGlyphs">BR</text>
<text transform="translate(553.95,744.3) rotate(-90)" x="0" y="0" font-family="Liberation Mono" font-size="15" fill="#111" stroke="#111" stroke-width="0.3" textLength="22.0" lengthAdjust="spacingAndGlyphs">GrL</text>
<text transform="translate(567.85,744.3) rotate(-90)" x="0" y="0" font-family="Liberation Mono" font-size="15" fill="#111" stroke="#111" stroke-width="0.3" textLength="22.0" lengthAdjust="spacingAndGlyphs">GrR</text>
<path d="M481,886 L481,864 L485,860 L541.6,860 L545.6,864 L545.6,886 Z" fill="#fff" stroke="#111" stroke-width="1.3"/>
<line x1="481" y1="872.4" x2="545.6" y2="872.4" stroke="#111" stroke-width="1.1"/>
<line x1="494.4" y1="860" x2="494.4" y2="886" stroke="#111" stroke-width="1.1"/>
<line x1="507.4" y1="860" x2="507.4" y2="886" stroke="#111" stroke-width="1.1"/>
<line x1="520.4" y1="860" x2="520.4" y2="886" stroke="#111" stroke-width="1.1"/>
<line x1="533" y1="860" x2="533" y2="886" stroke="#111" stroke-width="1.1"/>
<line x1="507.4" y1="860" x2="520.4" y2="872.4" stroke="#111" stroke-width="1.0"/>
<line x1="520.4" y1="860" x2="507.4" y2="872.4" stroke="#111" stroke-width="1.0"/>
<text x="487.7" y="869.5" font-family="Liberation Mono" font-size="7" font-weight="normal" fill="#111" text-anchor="middle" stroke="#111" stroke-width="0.3">WR</text>
<text x="500.9" y="869.5" font-family="Liberation Mono" font-size="7" font-weight="normal" fill="#111" text-anchor="middle" stroke="#111" stroke-width="0.3">YR</text>
<text x="526.7" y="869.5" font-family="Liberation Mono" font-size="7" font-weight="normal" fill="#111" text-anchor="middle" stroke="#111" stroke-width="0.3">BY</text>
<text x="539.3" y="869.5" font-family="Liberation Mono" font-size="7" font-weight="normal" fill="#111" text-anchor="middle" stroke="#111" stroke-width="0.3">GW</text>
<text x="500.9" y="882" font-family="Liberation Mono" font-size="7" font-weight="normal" fill="#111" text-anchor="middle" stroke="#111" stroke-width="0.3">WL</text>
<text x="513.9" y="882" font-family="Liberation Mono" font-size="7" font-weight="normal" fill="#111" text-anchor="middle" stroke="#111" stroke-width="0.3">YL</text>
<text x="526.7" y="882" font-family="Liberation Mono" font-size="7" font-weight="normal" fill="#111" text-anchor="middle" stroke="#111" stroke-width="0.3">RW</text>
<text x="539.3" y="882" font-family="Liberation Mono" font-size="7" font-weight="normal" fill="#111" text-anchor="middle" stroke="#111" stroke-width="0.3">LW</text>
<path d="M569,886 L569,864 L573,860 L605,860 L609,864 L609,886 Z" fill="#fff" stroke="#111" stroke-width="1.3"/>
<line x1="569" y1="872.4" x2="609" y2="872.4" stroke="#111" stroke-width="1.1"/>
<line x1="583" y1="860" x2="583" y2="886" stroke="#111" stroke-width="1.1"/>
<line x1="596" y1="860" x2="596" y2="886" stroke="#111" stroke-width="1.1"/>
<line x1="583" y1="860" x2="596" y2="872.4" stroke="#111" stroke-width="1.0"/>
<line x1="596" y1="860" x2="583" y2="872.4" stroke="#111" stroke-width="1.0"/>
<text x="576" y="869.5" font-family="Liberation Mono" font-size="6.5" font-weight="normal" fill="#111" text-anchor="middle" stroke="#111" stroke-width="0.5">GrL</text>
<text x="602.5" y="869.5" font-family="Liberation Mono" font-size="6.5" font-weight="normal" fill="#111" text-anchor="middle" stroke="#111" stroke-width="0.5">BL</text>
<text x="576" y="882" font-family="Liberation Mono" font-size="6.5" font-weight="normal" fill="#111" text-anchor="middle" stroke="#111" stroke-width="0.5">GrR</text>
<text x="602.5" y="882" font-family="Liberation Mono" font-size="6.5" font-weight="normal" fill="#111" text-anchor="middle" stroke="#111" stroke-width="0.5">BR</text>
<rect x="761.0" y="26" width="13.7" height="6" fill="rgb(2,2,2)"/>
<rect x="774.5" y="27" width="3.2" height="1" fill="rgb(134,134,134)"/>
<rect x="781.8" y="27" width="3" height="2" fill="#2a2a2a"/>
<rect x="774.5" y="28" width="12.8" height="1" fill="rgb(25,25,25)"/>
<rect x="774.5" y="31" width="2.6" height="1" fill="rgb(20,20,20)"/>
<rect x="786.2" y="31" width="1" height="2" fill="#2a2a2a"/>
<rect x="761.0" y="32" width="13.2" height="1" fill="rgb(13,13,13)"/>
<rect x="774.5" y="32" width="14.1" height="1" fill="rgb(131,131,131)"/>
<rect x="761.0" y="33" width="13.5" height="1" fill="rgb(116,116,116)"/>
<rect x="761.0" y="34" width="13.4" height="2" fill="rgb(12,12,12)"/>
<rect x="774.5" y="36" width="19.1" height="1" fill="rgb(123,123,123)"/>
<rect x="761.0" y="37" width="14.1" height="1" fill="rgb(13,13,13)"/>
<rect x="760.9" y="38" width="13.5" height="1" fill="rgb(125,125,125)"/>
<rect x="760.9" y="39" width="13.3" height="4" fill="rgb(17,17,17)"/>
<rect x="774.4" y="40" width="8.6" height="1" fill="rgb(95,95,95)"/>
<rect x="774.4" y="41" width="13.0" height="1" fill="rgb(79,79,79)"/>
<rect x="760.9" y="43" width="13.5" height="1" fill="rgb(105,105,105)"/>
<rect x="778.3" y="43" width="1" height="3" fill="#2a2a2a"/>
<rect x="760.9" y="44" width="14.1" height="1" fill="rgb(8,8,8)"/>
<rect x="774.4" y="44" width="12.6" height="1" fill="rgb(42,42,42)"/>
<rect x="760.9" y="45" width="13.5" height="1" fill="rgb(110,110,110)"/>
<rect x="760.9" y="46" width="13.3" height="2" fill="rgb(8,8,8)"/>
<rect x="774.4" y="46" width="15.6" height="1" fill="rgb(23,23,23)"/>
<rect x="784.7" y="47" width="2" height="2" fill="#2a2a2a"/>
<rect x="760.9" y="48" width="13.5" height="1" fill="rgb(111,111,111)"/>
<rect x="774.4" y="48" width="9.7" height="1" fill="rgb(109,109,109)"/>
<rect x="786.2" y="48" width="2" height="4" fill="#2a2a2a"/>
<rect x="760.9" y="49" width="13.1" height="3" fill="rgb(26,26,26)"/>
<rect x="774.4" y="50" width="15.1" height="1" fill="rgb(47,47,47)"/>
<rect x="760.9" y="52" width="13.5" height="1" fill="rgb(85,85,85)"/>
<rect x="774.4" y="52" width="18.9" height="1" fill="rgb(60,60,60)"/>
<rect x="760.9" y="53" width="13.9" height="2" fill="rgb(26,26,26)"/>
<rect x="786.4" y="54" width="2" height="3" fill="#2a2a2a"/>
<rect x="760.9" y="55" width="13.5" height="1" fill="rgb(107,107,107)"/>
<rect x="760.9" y="56" width="13.4" height="1" fill="rgb(14,14,14)"/>
<rect x="774.4" y="56" width="9.4" height="1" fill="rgb(72,72,72)"/>
<rect x="783.4" y="56" width="2" height="2" fill="#2a2a2a"/>
<rect x="760.9" y="58" width="15.0" height="1" fill="rgb(19,19,19)"/>
<rect x="760.9" y="59" width="13.5" height="1" fill="rgb(98,98,98)"/>
<rect x="774.4" y="59" width="10.1" height="1" fill="rgb(116,116,116)"/>
<rect x="760.9" y="60" width="14.9" height="1" fill="rgb(16,16,16)"/>
<rect x="760.8" y="62" width="13.5" height="1" fill="rgb(106,106,106)"/>
<rect x="774.3" y="62" width="6.3" height="1" fill="rgb(24,24,24)"/>
<rect x="760.8" y="63" width="13.8" height="3" fill="rgb(22,22,22)"/>
<rect x="774.3" y="63" width="17.6" height="1" fill="rgb(75,75,75)"/>
<rect x="774.3" y="64" width="15.2" height="1" fill="rgb(41,41,41)"/>
<rect x="774.3" y="65" width="2.4" height="1" fill="rgb(88,88,88)"/>
<rect x="760.8" y="67" width="12.8" height="6" fill="rgb(10,10,10)"/>
<rect x="780.6" y="68" width="1" height="4" fill="#2a2a2a"/>
<rect x="780.8" y="69" width="2" height="2" fill="#2a2a2a"/>
<rect x="786.5" y="70" width="3" height="2" fill="#2a2a2a"/>
<rect x="760.8" y="73" width="13.7" height="2" fill="rgb(1,1,1)"/>
<rect x="778.1" y="73" width="2" height="2" fill="#2a2a2a"/>
<rect x="774.3" y="74" width="3.2" height="1" fill="rgb(24,24,24)"/>
<rect x="774.3" y="75" width="10.9" height="1" fill="rgb(60,60,60)"/>
<rect x="778.3" y="75" width="3" height="4" fill="#2a2a2a"/>
<rect x="760.8" y="76" width="14.0" height="1" fill="rgb(12,12,12)"/>
<rect x="774.3" y="76" width="5.4" height="1" fill="rgb(62,62,62)"/>
<rect x="774.3" y="77" width="2.1" height="1" fill="rgb(112,112,112)"/>
<rect x="760.8" y="78" width="13.5" height="1" fill="rgb(80,80,80)"/>
<rect x="784.1" y="78" width="3" height="4" fill="#2a2a2a"/>
<rect x="760.8" y="80" width="12.6" height="2" fill="rgb(13,13,13)"/>
<rect x="774.3" y="81" width="18.9" height="1" fill="rgb(73,73,73)"/>
<rect x="760.8" y="82" width="13.5" height="1" fill="rgb(101,101,101)"/>
<rect x="774.3" y="82" width="6.8" height="1" fill="rgb(95,95,95)"/>
<rect x="783.5" y="82" width="3" height="2" fill="#2a2a2a"/>
<rect x="774.3" y="84" width="17.9" height="1" fill="rgb(121,121,121)"/>
<rect x="760.7" y="85" width="13.7" height="3" fill="rgb(3,3,3)"/>
<rect x="774.2" y="85" width="16.4" height="1" fill="rgb(104,104,104)"/>
<rect x="774.2" y="87" width="7.7" height="1" fill="rgb(88,88,88)"/>
<rect x="785.9" y="87" width="1" height="3" fill="#2a2a2a"/>
<rect x="760.7" y="88" width="13.5" height="1" fill="rgb(88,88,88)"/>
<rect x="774.2" y="88" width="8.9" height="1" fill="rgb(87,87,87)"/>
<rect x="778.7" y="88" width="3" height="2" fill="#2a2a2a"/>
<rect x="760.7" y="89" width="12.6" height="2" fill="rgb(26,26,26)"/>
<rect x="789.7" y="89" width="3" height="4" fill="#2a2a2a"/>
<rect x="760.7" y="96" width="13.5" height="1" fill="rgb(86,86,86)"/>
<rect x="774.2" y="96" width="16.8" height="1" fill="rgb(97,97,97)"/>
<rect x="779.7" y="96" width="2" height="2" fill="#2a2a2a"/>
<rect x="760.7" y="97" width="13.1" height="1" fill="rgb(15,15,15)"/>
<rect x="774.2" y="97" width="17.0" height="1" fill="rgb(82,82,82)"/>
<rect x="788.0" y="97" width="3" height="2" fill="#2a2a2a"/>
<rect x="760.7" y="98" width="13.5" height="1" fill="rgb(114,114,114)"/>
<rect x="760.7" y="99" width="13.9" height="3" fill="rgb(14,14,14)"/>
<rect x="760.7" y="102" width="13.5" height="1" fill="rgb(146,146,146)"/>
<rect x="774.2" y="102" width="13.9" height="1" fill="rgb(115,115,115)"/>
<rect x="760.7" y="104" width="13.3" height="3" fill="rgb(5,5,5)"/>
<rect x="784.9" y="104" width="1" height="3" fill="#2a2a2a"/>
<rect x="778.7" y="106" width="3" height="4" fill="#2a2a2a"/>
<rect x="760.6" y="107" width="13.5" height="1" fill="rgb(157,157,157)"/>
<rect x="774.1" y="107" width="13.0" height="1" fill="rgb(55,55,55)"/>
<rect x="784.1" y="107" width="3" height="3" fill="#2a2a2a"/>
<rect x="760.6" y="108" width="14.0" height="4" fill="rgb(4,4,4)"/>
<rect x="774.1" y="108" width="9.2" height="1" fill="rgb(92,92,92)"/>
<rect x="774.1" y="109" width="7.7" height="1" fill="rgb(96,96,96)"/>
<rect x="760.6" y="112" width="13.5" height="1" fill="rgb(108,108,108)"/>
<rect x="774.1" y="112" width="4.0" height="1" fill="rgb(84,84,84)"/>
<rect x="760.6" y="113" width="14.3" height="6" fill="rgb(10,10,10)"/>
<rect x="774.1" y="113" width="8.9" height="1" fill="rgb(54,54,54)"/>
<rect x="782.6" y="117" width="2" height="2" fill="#2a2a2a"/>
<rect x="774.1" y="118" width="8.1" height="1" fill="rgb(47,47,47)"/>
<rect x="760.6" y="119" width="13.8" height="1" fill="rgb(11,11,11)"/>
<rect x="774.1" y="119" width="9.9" height="1" fill="rgb(35,35,35)"/>
<rect x="760.6" y="121" width="12.5" height="1" fill="rgb(11,11,11)"/>
<rect x="774.1" y="121" width="7.9" height="1" fill="rgb(76,76,76)"/>
<rect x="760.6" y="122" width="13.5" height="1" fill="rgb(153,153,153)"/>
<rect x="783.5" y="122" width="2" height="2" fill="#2a2a2a"/>
<rect x="760.6" y="123" width="13.4" height="2" fill="rgb(0,0,0)"/>
<rect x="778.1" y="123" width="2" height="3" fill="#2a2a2a"/>
<rect x="774.1" y="124" width="2.5" height="1" fill="rgb(88,88,88)"/>
<rect x="760.6" y="125" width="13.5" height="1" fill="rgb(110,110,110)"/>
<rect x="760.6" y="126" width="14.3" height="4" fill="rgb(26,26,26)"/>
<rect x="774.1" y="127" width="11.3" height="1" fill="rgb(85,85,85)"/>
<rect x="774.1" y="128" width="9.6" height="1" fill="rgb(133,133,133)"/>
<rect x="779.3" y="129" width="1" height="3" fill="#2a2a2a"/>
<rect x="774.0" y="130" width="7.6" height="1" fill="rgb(20,20,20)"/>
<rect x="760.5" y="131" width="13.7" height="2" fill="rgb(5,5,5)"/>
<rect x="774.0" y="131" width="5.2" height="1" fill="rgb(101,101,101)"/>
<rect x="760.5" y="133" width="13.5" height="1" fill="rgb(125,125,125)"/>
<rect x="774.0" y="133" width="12.2" height="1" fill="rgb(115,115,115)"/>
<rect x="774.0" y="134" width="9.1" height="1" fill="rgb(116,116,116)"/>
<rect x="760.5" y="135" width="12.7" height="6" fill="rgb(10,10,10)"/>
<rect x="774.0" y="135" width="9.7" height="1" fill="rgb(74,74,74)"/>
<rect x="774.0" y="136" width="12.5" height="1" fill="rgb(102,102,102)"/>
<rect x="774.0" y="138" width="8.3" height="1" fill="rgb(31,31,31)"/>
<rect x="783.7" y="138" width="2" height="4" fill="#2a2a2a"/>
<rect x="760.5" y="141" width="13.8" height="4" fill="rgb(29,29,29)"/>
<rect x="774.0" y="141" width="17.7" height="1" fill="rgb(104,104,104)"/>
<rect x="774.0" y="142" width="11.2" height="1" fill="rgb(63,63,63)"/>
<rect x="774.0" y="143" width="10.5" height="1" fill="rgb(99,99,99)"/>
<rect x="774.0" y="144" width="15.8" height="1" fill="rgb(94,94,94)"/>
<rect x="760.5" y="146" width="14.3" height="3" fill="rgb(1,1,1)"/>
<rect x="774.0" y="148" width="3.7" height="1" fill="rgb(78,78,78)"/>
<rect x="788.9" y="148" width="3" height="2" fill="#2a2a2a"/>
<rect x="760.5" y="149" width="13.5" height="1" fill="rgb(110,110,110)"/>
<rect x="774.0" y="149" width="2.6" height="1" fill="rgb(83,83,83)"/>
<rect x="760.5" y="150" width="14.6" height="6" fill="rgb(28,28,28)"/>
<rect x="782.2" y="150" width="3" height="2" fill="#2a2a2a"/>
<rect x="774.0" y="151" width="6.0" height="1" fill="rgb(53,53,53)"/>
<rect x="789.6" y="151" width="1" height="2" fill="#2a2a2a"/>
<rect x="774.0" y="152" width="9.1" height="1" fill="rgb(92,92,92)"/>
<rect x="774.0" y="155" width="13.0" height="1" fill="rgb(87,87,87)"/>
<rect x="760.4" y="156" width="13.6" height="3" fill="rgb(17,17,17)"/>
<rect x="773.9" y="156" width="6.8" height="1" fill="rgb(67,67,67)"/>
<rect x="787.2" y="156" width="3" height="3" fill="#2a2a2a"/>
<rect x="773.9" y="157" width="4.8" height="1" fill="rgb(86,86,86)"/>
<rect x="760.4" y="159" width="13.5" height="1" fill="rgb(134,134,134)"/>
<rect x="760.4" y="160" width="13.7" height="1" fill="rgb(19,19,19)"/>
<rect x="773.9" y="160" width="13.5" height="1" fill="rgb(63,63,63)"/>
<rect x="773.9" y="161" width="7.2" height="1" fill="rgb(64,64,64)"/>
<rect x="760.4" y="162" width="13.2" height="3" fill="rgb(27,27,27)"/>
<rect x="789.0" y="162" width="2" height="3" fill="#2a2a2a"/>
<rect x="773.9" y="163" width="7.6" height="1" fill="rgb(101,101,101)"/>
<rect x="773.9" y="164" width="14.2" height="1" fill="rgb(90,90,90)"/>
<rect x="760.4" y="165" width="13.5" height="2" fill="rgb(144,144,144)"/>
<rect x="760.4" y="167" width="14.8" height="3" fill="rgb(26,26,26)"/>
<rect x="760.4" y="170" width="13.5" height="1" fill="rgb(117,117,117)"/>
<rect x="760.4" y="171" width="13.0" height="2" fill="rgb(22,22,22)"/>
<rect x="773.9" y="172" width="4.6" height="1" fill="rgb(137,137,137)"/>
<rect x="773.9" y="173" width="8.4" height="1" fill="rgb(45,45,45)"/>
<rect x="760.4" y="174" width="13.9" height="5" fill="rgb(17,17,17)"/>
<rect x="773.9" y="174" width="2.9" height="1" fill="rgb(81,81,81)"/>
<rect x="773.9" y="175" width="12.7" height="1" fill="rgb(35,35,35)"/>
<rect x="783.9" y="175" width="3" height="4" fill="#2a2a2a"/>
<rect x="773.9" y="177" width="6.5" height="1" fill="rgb(60,60,60)"/>
<rect x="773.9" y="178" width="5.4" height="1" fill="rgb(34,34,34)"/>
<rect x="760.3" y="180" width="13.5" height="1" fill="rgb(157,157,157)"/>
<rect x="773.8" y="180" width="11.2" height="1" fill="rgb(85,85,85)"/>
<rect x="760.3" y="181" width="13.1" height="5" fill="rgb(21,21,21)"/>
<rect x="773.8" y="183" width="13.4" height="1" fill="rgb(116,116,116)"/>
<rect x="789.8" y="183" width="2" height="2" fill="#2a2a2a"/>
<rect x="773.8" y="184" width="14.3" height="1" fill="rgb(41,41,41)"/>
<rect x="783.3" y="184" width="2" height="3" fill="#2a2a2a"/>
<rect x="760.3" y="186" width="13.5" height="1" fill="rgb(124,124,124)"/>
<rect x="760.3" y="188" width="13.2" height="1" fill="rgb(8,8,8)"/>
<rect x="773.8" y="188" width="16.6" height="1" fill="rgb(39,39,39)"/>
<rect x="779.0" y="188" width="1" height="2" fill="#2a2a2a"/>
<rect x="760.3" y="189" width="13.5" height="1" fill="rgb(86,86,86)"/>
<rect x="760.3" y="190" width="14.2" height="5" fill="rgb(27,27,27)"/>
<rect x="773.8" y="193" width="5.5" height="1" fill="rgb(114,114,114)"/>
<rect x="782.4" y="193" width="2" height="2" fill="#2a2a2a"/>
<rect x="773.8" y="194" width="7.5" height="1" fill="rgb(124,124,124)"/>
<rect x="760.3" y="195" width="13.5" height="1" fill="rgb(90,90,90)"/>
<rect x="773.8" y="195" width="3.4" height="1" fill="rgb(30,30,30)"/>
<rect x="760.3" y="196" width="12.7" height="6" fill="rgb(4,4,4)"/>
<rect x="785.8" y="200" width="3" height="2" fill="#2a2a2a"/>
<rect x="773.8" y="201" width="7.5" height="1" fill="rgb(112,112,112)"/>
<rect x="760.2" y="202" width="12.8" height="4" fill="rgb(11,11,11)"/>
<rect x="773.7" y="205" width="9.4" height="1" fill="rgb(122,122,122)"/>
<rect x="779.6" y="205" width="2" height="3" fill="#2a2a2a"/>
<rect x="773.7" y="206" width="8.4" height="1" fill="rgb(93,93,93)"/>
<rect x="785.6" y="206" width="2" height="3" fill="#2a2a2a"/>
<rect x="760.2" y="207" width="12.6" height="6" fill="rgb(3,3,3)"/>
<rect x="773.7" y="207" width="7.5" height="1" fill="rgb(45,45,45)"/>
<rect x="773.7" y="214" width="17.3" height="1" fill="rgb(140,140,140)"/>
<rect x="760.2" y="215" width="13.8" height="1" fill="rgb(14,14,14)"/>
<rect x="773.7" y="215" width="10.5" height="1" fill="rgb(48,48,48)"/>
<rect x="783.3" y="216" width="3" height="2" fill="#2a2a2a"/>
<rect x="760.2" y="217" width="14.8" height="1" fill="rgb(23,23,23)"/>
<rect x="783.0" y="217" width="1" height="2" fill="#2a2a2a"/>
<rect x="760.2" y="218" width="13.5" height="2" fill="rgb(160,160,160)"/>
<rect x="773.7" y="219" width="7.6" height="1" fill="rgb(57,57,57)"/>
<rect x="760.2" y="220" width="13.7" height="3" fill="rgb(15,15,15)"/>
<rect x="773.7" y="221" width="11.2" height="1" fill="rgb(71,71,71)"/>
<rect x="773.7" y="222" width="17.8" height="1" fill="rgb(44,44,44)"/>
<rect x="760.1" y="223" width="13.5" height="1" fill="rgb(90,90,90)"/>
<rect x="760.1" y="224" width="14.3" height="1" fill="rgb(24,24,24)"/>
<rect x="773.6" y="224" width="4.7" height="1" fill="rgb(106,106,106)"/>
<rect x="760.1" y="225" width="13.5" height="1" fill="rgb(135,135,135)"/>
<rect x="773.6" y="225" width="3.1" height="1" fill="rgb(106,106,106)"/>
<rect x="773.6" y="226" width="12.9" height="1" fill="rgb(62,62,62)"/>
<rect x="760.1" y="227" width="13.6" height="6" fill="rgb(12,12,12)"/>
<rect x="773.6" y="227" width="17.4" height="1" fill="rgb(61,61,61)"/>
<rect x="773.6" y="230" width="12.7" height="1" fill="rgb(115,115,115)"/>
<rect x="760.1" y="233" width="13.1" height="6" fill="rgb(21,21,21)"/>
<rect x="773.6" y="234" width="5.0" height="1" fill="rgb(32,32,32)"/>
<rect x="760.1" y="240" width="14.3" height="2" fill="rgb(28,28,28)"/>
<rect x="773.6" y="240" width="5.6" height="1" fill="rgb(49,49,49)"/>
<rect x="782.1" y="241" width="1" height="4" fill="#2a2a2a"/>
<rect x="760.1" y="243" width="13.8" height="6" fill="rgb(12,12,12)"/>
<rect x="784.1" y="244" width="2" height="2" fill="#2a2a2a"/>
<rect x="773.6" y="245" width="16.7" height="1" fill="rgb(122,122,122)"/>
<rect x="773.6" y="246" width="15.4" height="1" fill="rgb(70,70,70)"/>
<rect x="784.6" y="247" width="2" height="4" fill="#2a2a2a"/>
<rect x="760.0" y="249" width="15.0" height="5" fill="rgb(13,13,13)"/>
<rect x="773.5" y="249" width="13.4" height="1" fill="rgb(100,100,100)"/>
<rect x="773.5" y="250" width="9.3" height="1" fill="rgb(138,138,138)"/>
<rect x="783.9" y="250" width="2" height="3" fill="#2a2a2a"/>
<rect x="773.5" y="252" width="5.3" height="1" fill="rgb(46,46,46)"/>
<rect x="773.5" y="253" width="5.6" height="1" fill="rgb(140,140,140)"/>
<rect x="760.0" y="254" width="13.5" height="1" fill="rgb(81,81,81)"/>
<rect x="773.5" y="254" width="7.0" height="1" fill="rgb(47,47,47)"/>
<rect x="760.0" y="255" width="13.9" height="5" fill="rgb(6,6,6)"/>
<rect x="773.5" y="255" width="10.4" height="1" fill="rgb(58,58,58)"/>
<rect x="773.5" y="256" width="4.4" height="1" fill="rgb(55,55,55)"/>
<rect x="773.5" y="257" width="6.1" height="1" fill="rgb(46,46,46)"/>
<rect x="773.5" y="258" width="5.6" height="1" fill="rgb(45,45,45)"/>
<rect x="782.3" y="259" width="1" height="4" fill="#2a2a2a"/>
<rect x="760.0" y="260" width="13.5" height="1" fill="rgb(120,120,120)"/>
<rect x="773.5" y="260" width="6.8" height="1" fill="rgb(87,87,87)"/>
<rect x="760.0" y="261" width="13.0" height="3" fill="rgb(29,29,29)"/>
<rect x="773.5" y="261" width="3.5" height="1" fill="rgb(73,73,73)"/>
<rect x="773.5" y="262" width="7.7" height="1" fill="rgb(103,103,103)"/>
<rect x="773.5" y="263" width="14.3" height="1" fill="rgb(97,97,97)"/>
<rect x="760.0" y="264" width="13.5" height="1" fill="rgb(73,73,73)"/>
<rect x="773.5" y="264" width="7.3" height="1" fill="rgb(96,96,96)"/>
<rect x="760.0" y="265" width="12.6" height="4" fill="rgb(10,10,10)"/>
<rect x="773.5" y="266" width="16.7" height="1" fill="rgb(91,91,91)"/>
<rect x="759.9" y="269" width="13.5" height="1" fill="rgb(131,131,131)"/>
<rect x="773.4" y="269" width="15.0" height="1" fill="rgb(67,67,67)"/>
<rect x="759.9" y="270" width="13.2" height="1" fill="rgb(15,15,15)"/>
<rect x="759.9" y="271" width="13.5" height="1" fill="rgb(128,128,128)"/>
<rect x="773.4" y="271" width="8.0" height="1" fill="rgb(66,66,66)"/>
<rect x="759.9" y="272" width="13.9" height="4" fill="rgb(29,29,29)"/>
<rect x="788.2" y="275" width="2" height="4" fill="#2a2a2a"/>
<rect x="759.9" y="276" width="13.5" height="1" fill="rgb(103,103,103)"/>
<rect x="773.4" y="276" width="8.0" height="1" fill="rgb(20,20,20)"/>
<rect x="759.9" y="277" width="13.3" height="4" fill="rgb(27,27,27)"/>
<rect x="773.4" y="277" width="12.1" height="1" fill="rgb(68,68,68)"/>
<rect x="773.4" y="279" width="10.0" height="1" fill="rgb(21,21,21)"/>
<rect x="759.9" y="281" width="13.5" height="3" fill="rgb(140,140,140)"/>
<rect x="786.8" y="281" width="1" height="2" fill="#2a2a2a"/>
<rect x="779.3" y="283" width="3" height="2" fill="#2a2a2a"/>
<rect x="759.9" y="284" width="13.8" height="6" fill="rgb(3,3,3)"/>
<rect x="779.0" y="287" width="1" height="2" fill="#2a2a2a"/>
<rect x="759.9" y="290" width="13.8" height="2" fill="rgb(16,16,16)"/>
<rect x="786.3" y="290" width="2" height="4" fill="#2a2a2a"/>
<rect x="773.4" y="291" width="5.9" height="1" fill="rgb(41,41,41)"/>
<rect x="759.8" y="292" width="13.5" height="1" fill="rgb(112,112,112)"/>
<rect x="759.8" y="293" width="14.8" height="1" fill="rgb(16,16,16)"/>
<rect x="759.8" y="294" width="13.5" height="1" fill="rgb(114,114,114)"/>
<rect x="773.3" y="295" width="3.2" height="1" fill="rgb(138,138,138)"/>
<rect x="773.3" y="296" width="9.6" height="1" fill="rgb(85,85,85)"/>
<rect x="759.8" y="297" width="14.8" height="4" fill="rgb(6,6,6)"/>
<rect x="786.4" y="297" width="3" height="2" fill="#2a2a2a"/>
<rect x="759.8" y="302" width="14.4" height="2" fill="rgb(26,26,26)"/>
<rect x="773.3" y="303" width="13.5" height="1" fill="rgb(124,124,124)"/>
<rect x="759.8" y="304" width="13.5" height="1" fill="rgb(126,126,126)"/>
<rect x="773.3" y="304" width="4.7" height="1" fill="rgb(129,129,129)"/>
<rect x="759.8" y="305" width="14.9" height="4" fill="rgb(4,4,4)"/>
<rect x="781.3" y="308" width="2" height="4" fill="#2a2a2a"/>
<rect x="759.8" y="309" width="13.5" height="1" fill="rgb(155,155,155)"/>
<rect x="773.3" y="309" width="7.4" height="1" fill="rgb(58,58,58)"/>
<rect x="759.8" y="310" width="14.8" height="6" fill="rgb(1,1,1)"/>
<rect x="773.3" y="311" width="9.7" height="1" fill="rgb(92,92,92)"/>
<rect x="773.3" y="313" width="3.1" height="1" fill="rgb(90,90,90)"/>
<rect x="788.3" y="313" width="1" height="3" fill="#2a2a2a"/>
<rect x="759.7" y="316" width="14.6" height="5" fill="rgb(5,5,5)"/>
<rect x="773.2" y="318" width="14.6" height="1" fill="rgb(49,49,49)"/>
<rect x="773.2" y="319" width="11.6" height="1" fill="rgb(91,91,91)"/>
<rect x="782.1" y="321" width="3" height="2" fill="#2a2a2a"/>
<rect x="759.7" y="323" width="14.8" height="1" fill="rgb(0,0,0)"/>
<rect x="759.7" y="324" width="13.5" height="1" fill="rgb(104,104,104)"/>
<rect x="759.7" y="325" width="13.0" height="6" fill="rgb(0,0,0)"/>
<rect x="786.5" y="325" width="3" height="4" fill="#2a2a2a"/>
<rect x="773.2" y="328" width="6.5" height="1" fill="rgb(67,67,67)"/>
<rect x="779.4" y="330" width="2" height="4" fill="#2a2a2a"/>
<rect x="773.2" y="331" width="18.0" height="1" fill="rgb(69,69,69)"/>
<rect x="759.7" y="332" width="13.2" height="1" fill="rgb(11,11,11)"/>
<rect x="773.2" y="332" width="8.1" height="1" fill="rgb(114,114,114)"/>
<rect x="785.1" y="332" width="3" height="3" fill="#2a2a2a"/>
<rect x="759.7" y="333" width="13.5" height="1" fill="rgb(94,94,94)"/>
<rect x="773.2" y="333" width="16.7" height="1" fill="rgb(117,117,117)"/>
<rect x="759.7" y="334" width="14.6" height="2" fill="rgb(18,18,18)"/>
<rect x="759.7" y="336" width="13.5" height="1" fill="rgb(102,102,102)"/>
<rect x="759.6" y="337" width="12.7" height="1" fill="rgb(12,12,12)"/>
<rect x="773.1" y="337" width="3.8" height="1" fill="rgb(131,131,131)"/>
<rect x="759.6" y="339" width="13.1" height="3" fill="rgb(11,11,11)"/>
<rect x="780.9" y="341" width="1" height="3" fill="#2a2a2a"/>
<rect x="759.6" y="342" width="13.5" height="1" fill="rgb(111,111,111)"/>
<rect x="773.1" y="343" width="5.3" height="1" fill="rgb(113,113,113)"/>
<rect x="759.6" y="344" width="13.5" height="1" fill="rgb(120,120,120)"/>
<rect x="759.6" y="345" width="13.0" height="1" fill="rgb(23,23,23)"/>
<rect x="773.1" y="345" width="16.7" height="1" fill="rgb(53,53,53)"/>
<rect x="759.6" y="346" width="13.5" height="1" fill="rgb(153,153,153)"/>
<rect x="786.5" y="346" width="1" height="4" fill="#2a2a2a"/>
<rect x="759.6" y="347" width="13.9" height="6" fill="rgb(28,28,28)"/>
<rect x="787.1" y="347" width="2" height="3" fill="#2a2a2a"/>
<rect x="783.4" y="348" width="2" height="2" fill="#2a2a2a"/>
<rect x="759.6" y="353" width="13.7" height="6" fill="rgb(24,24,24)"/>
<rect x="773.1" y="353" width="8.0" height="1" fill="rgb(92,92,92)"/>
<rect x="781.5" y="355" width="3" height="3" fill="#2a2a2a"/>
<rect x="773.1" y="356" width="17.2" height="1" fill="rgb(71,71,71)"/>
<rect x="759.6" y="359" width="12.8" height="1" fill="rgb(23,23,23)"/>
<rect x="759.5" y="360" width="13.5" height="1" fill="rgb(145,145,145)"/>
<rect x="759.5" y="361" width="14.6" height="2" fill="rgb(20,20,20)"/>
<rect x="773.0" y="362" width="8.9" height="1" fill="rgb(29,29,29)"/>
<rect x="773.0" y="363" width="5.3" height="1" fill="rgb(48,48,48)"/>
<rect x="759.5" y="364" width="13.0" height="6" fill="rgb(3,3,3)"/>
<rect x="773.0" y="364" width="15.0" height="1" fill="rgb(41,41,41)"/>
<rect x="777.5" y="365" width="2" height="2" fill="#2a2a2a"/>
<rect x="773.0" y="366" width="17.3" height="1" fill="rgb(119,119,119)"/>
<rect x="773.0" y="367" width="13.9" height="1" fill="rgb(91,91,91)"/>
<rect x="773.0" y="369" width="5.1" height="1" fill="rgb(108,108,108)"/>
<rect x="759.5" y="370" width="13.7" height="2" fill="rgb(28,28,28)"/>
<rect x="779.2" y="370" width="3" height="3" fill="#2a2a2a"/>
<rect x="759.5" y="372" width="13.5" height="1" fill="rgb(99,99,99)"/>
<rect x="759.5" y="373" width="14.7" height="6" fill="rgb(11,11,11)"/>
<rect x="784.7" y="373" width="3" height="2" fill="#2a2a2a"/>
<rect x="773.0" y="375" width="4.9" height="1" fill="rgb(37,37,37)"/>
<rect x="773.0" y="378" width="3.5" height="1" fill="rgb(51,51,51)"/>
<rect x="759.5" y="379" width="12.8" height="6" fill="rgb(7,7,7)"/>
<rect x="773.0" y="381" width="17.1" height="1" fill="rgb(87,87,87)"/>
<rect x="773.0" y="382" width="15.6" height="1" fill="rgb(133,133,133)"/>
<rect x="781.4" y="383" width="2" height="4" fill="#2a2a2a"/>
<rect x="759.4" y="385" width="12.7" height="6" fill="rgb(2,2,2)"/>
<rect x="772.9" y="386" width="7.5" height="1" fill="rgb(97,97,97)"/>
<rect x="788.4" y="389" width="1" height="2" fill="#2a2a2a"/>
<rect x="759.4" y="391" width="12.9" height="2" fill="rgb(2,2,2)"/>
<rect x="772.9" y="391" width="16.7" height="1" fill="rgb(107,107,107)"/>
<rect x="759.4" y="394" width="14.7" height="6" fill="rgb(22,22,22)"/>
<rect x="772.9" y="394" width="7.9" height="1" fill="rgb(128,128,128)"/>
<rect x="772.9" y="395" width="14.7" height="1" fill="rgb(61,61,61)"/>
<rect x="772.9" y="396" width="14.8" height="1" fill="rgb(68,68,68)"/>
<rect x="779.5" y="396" width="2" height="3" fill="#2a2a2a"/>
<rect x="772.9" y="398" width="18.4" height="1" fill="rgb(98,98,98)"/>
<rect x="759.4" y="400" width="14.2" height="4" fill="rgb(10,10,10)"/>
<rect x="772.9" y="400" width="10.9" height="1" fill="rgb(94,94,94)"/>
<rect x="772.9" y="402" width="13.9" height="1" fill="rgb(38,38,38)"/>
<rect x="785.5" y="402" width="1" height="2" fill="#2a2a2a"/>
<rect x="772.9" y="403" width="18.7" height="1" fill="rgb(67,67,67)"/>
<rect x="759.4" y="404" width="13.5" height="1" fill="rgb(123,123,123)"/>
<rect x="759.4" y="405" width="13.8" height="1" fill="rgb(14,14,14)"/>
<rect x="772.9" y="405" width="8.9" height="1" fill="rgb(68,68,68)"/>
<rect x="772.8" y="406" width="14.2" height="1" fill="rgb(97,97,97)"/>
<rect x="759.3" y="407" width="14.7" height="3" fill="rgb(10,10,10)"/>
<rect x="772.8" y="407" width="18.6" height="1" fill="rgb(98,98,98)"/>
<rect x="759.3" y="410" width="13.5" height="1" fill="rgb(142,142,142)"/>
<rect x="759.3" y="411" width="14.7" height="4" fill="rgb(5,5,5)"/>
<rect x="772.8" y="412" width="9.5" height="1" fill="rgb(22,22,22)"/>
<rect x="784.2" y="414" width="2" height="4" fill="#2a2a2a"/>
<rect x="772.8" y="415" width="10.2" height="1" fill="rgb(86,86,86)"/>
<rect x="759.3" y="416" width="13.4" height="6" fill="rgb(25,25,25)"/>
<rect x="772.8" y="417" width="2.1" height="1" fill="rgb(131,131,131)"/>
<rect x="772.8" y="418" width="5.1" height="1" fill="rgb(109,109,109)"/>
<rect x="783.9" y="419" width="2" height="4" fill="#2a2a2a"/>
<rect x="772.8" y="420" width="8.2" height="1" fill="rgb(26,26,26)"/>
<rect x="759.3" y="422" width="12.5" height="2" fill="rgb(24,24,24)"/>
<rect x="772.8" y="422" width="14.3" height="1" fill="rgb(135,135,135)"/>
<rect x="779.4" y="422" width="1" height="2" fill="#2a2a2a"/>
<rect x="772.8" y="423" width="7.5" height="1" fill="rgb(80,80,80)"/>
<rect x="784.7" y="423" width="1" height="3" fill="#2a2a2a"/>
<rect x="759.3" y="425" width="14.9" height="1" fill="rgb(29,29,29)"/>
<rect x="772.8" y="426" width="9.5" height="1" fill="rgb(84,84,84)"/>
<rect x="776.8" y="426" width="1" height="2" fill="#2a2a2a"/>
<rect x="759.3" y="427" width="12.5" height="1" fill="rgb(27,27,27)"/>
<rect x="759.3" y="428" width="13.5" height="1" fill="rgb(140,140,140)"/>
<rect x="772.8" y="428" width="5.9" height="1" fill="rgb(29,29,29)"/>
<rect x="772.7" y="430" width="5.0" height="1" fill="rgb(127,127,127)"/>
<rect x="759.2" y="431" width="14.7" height="3" fill="rgb(5,5,5)"/>
<rect x="772.7" y="432" width="3.7" height="1" fill="rgb(131,131,131)"/>
<rect x="772.7" y="433" width="16.5" height="1" fill="rgb(64,64,64)"/>
<rect x="783.6" y="434" width="3" height="4" fill="#2a2a2a"/>
<rect x="759.2" y="435" width="13.8" height="2" fill="rgb(9,9,9)"/>
<rect x="772.7" y="435" width="5.3" height="1" fill="rgb(125,125,125)"/>
<rect x="788.2" y="435" width="2" height="3" fill="#2a2a2a"/>
<rect x="772.7" y="436" width="13.1" height="1" fill="rgb(42,42,42)"/>
<rect x="759.2" y="437" width="13.5" height="1" fill="rgb(150,150,150)"/>
<rect x="759.2" y="438" width="12.8" height="4" fill="rgb(16,16,16)"/>
<rect x="780.6" y="438" width="2" height="2" fill="#2a2a2a"/>
<rect x="772.7" y="439" width="16.7" height="1" fill="rgb(71,71,71)"/>
<rect x="772.7" y="440" width="6.9" height="1" fill="rgb(59,59,59)"/>
<rect x="782.2" y="440" width="2" height="3" fill="#2a2a2a"/>
<rect x="759.2" y="443" width="14.6" height="3" fill="rgb(28,28,28)"/>
<rect x="772.7" y="444" width="13.9" height="1" fill="rgb(94,94,94)"/>
<rect x="772.7" y="445" width="9.7" height="1" fill="rgb(111,111,111)"/>
<rect x="759.2" y="446" width="13.5" height="1" fill="rgb(116,116,116)"/>
<rect x="759.2" y="447" width="13.8" height="1" fill="rgb(3,3,3)"/>
<rect x="772.7" y="448" width="7.8" height="1" fill="rgb(126,126,126)"/>
<rect x="759.2" y="449" width="14.8" height="3" fill="rgb(0,0,0)"/>
<rect x="772.7" y="449" width="17.6" height="1" fill="rgb(42,42,42)"/>
<rect x="772.7" y="451" width="19.1" height="1" fill="rgb(96,96,96)"/>
<rect x="759.1" y="452" width="13.5" height="1" fill="rgb(97,97,97)"/>
<rect x="759.1" y="453" width="14.7" height="6" fill="rgb(13,13,13)"/>
<rect x="772.6" y="453" width="9.2" height="1" fill="rgb(129,129,129)"/>
<rect x="772.6" y="454" width="11.9" height="1" fill="rgb(119,119,119)"/>
<rect x="777.6" y="454" width="1" height="3" fill="#2a2a2a"/>
<rect x="772.6" y="456" width="7.0" height="1" fill="rgb(122,122,122)"/>
<rect x="781.8" y="457" width="2" height="4" fill="#2a2a2a"/>
<rect x="759.1" y="459" width="13.1" height="6" fill="rgb(14,14,14)"/>
<rect x="772.6" y="459" width="9.4" height="1" fill="rgb(27,27,27)"/>
<rect x="772.6" y="460" width="16.4" height="1" fill="rgb(91,91,91)"/>
<rect x="772.6" y="463" width="3.4" height="1" fill="rgb(36,36,36)"/>
<rect x="775.7" y="464" width="3" height="4" fill="#2a2a2a"/>
<rect x="759.1" y="465" width="13.5" height="1" fill="rgb(136,136,136)"/>
<rect x="759.1" y="466" width="14.4" height="3" fill="rgb(10,10,10)"/>
<rect x="772.6" y="467" width="12.2" height="1" fill="rgb(91,91,91)"/>
<rect x="759.1" y="469" width="13.5" height="1" fill="rgb(130,130,130)"/>
<rect x="759.1" y="470" width="12.6" height="1" fill="rgb(24,24,24)"/>
<rect x="759.1" y="471" width="13.5" height="2" fill="rgb(113,113,113)"/>
<rect x="772.6" y="471" width="7.9" height="1" fill="rgb(31,31,31)"/>
<rect x="772.6" y="472" width="9.6" height="1" fill="rgb(76,76,76)"/>
<rect x="759.1" y="473" width="12.7" height="1" fill="rgb(19,19,19)"/>
<rect x="759.0" y="475" width="13.6" height="5" fill="rgb(9,9,9)"/>
<rect x="772.5" y="475" width="10.5" height="1" fill="rgb(85,85,85)"/>
<rect x="772.5" y="476" width="9.5" height="1" fill="rgb(136,136,136)"/>
<rect x="775.8" y="479" width="3" height="4" fill="#2a2a2a"/>
<rect x="759.0" y="481" width="14.3" height="6" fill="rgb(26,26,26)"/>
<rect x="772.5" y="482" width="14.4" height="1" fill="rgb(95,95,95)"/>
<rect x="783.0" y="482" width="1" height="2" fill="#2a2a2a"/>
<rect x="780.1" y="483" width="1" height="2" fill="#2a2a2a"/>
<rect x="759.0" y="487" width="13.8" height="6" fill="rgb(0,0,0)"/>
<rect x="784.1" y="487" width="2" height="3" fill="#2a2a2a"/>
<rect x="785.6" y="488" width="2" height="2" fill="#2a2a2a"/>
<rect x="772.5" y="489" width="4.3" height="1" fill="rgb(98,98,98)"/>
<rect x="759.0" y="494" width="14.2" height="3" fill="rgb(6,6,6)"/>
<rect x="772.5" y="494" width="7.4" height="1" fill="rgb(101,101,101)"/>
<rect x="759.0" y="497" width="13.5" height="1" fill="rgb(94,94,94)"/>
<rect x="772.5" y="497" width="8.4" height="1" fill="rgb(56,56,56)"/>
<rect x="758.9" y="498" width="14.8" height="1" fill="rgb(20,20,20)"/>
<rect x="758.9" y="499" width="13.5" height="1" fill="rgb(116,116,116)"/>
<rect x="758.9" y="500" width="12.7" height="4" fill="rgb(3,3,3)"/>
<rect x="772.4" y="500" width="13.8" height="1" fill="rgb(77,77,77)"/>
<rect x="772.4" y="502" width="10.2" height="1" fill="rgb(24,24,24)"/>
<rect x="772.4" y="503" width="18.0" height="1" fill="rgb(26,26,26)"/>
<rect x="787.8" y="503" width="2" height="3" fill="#2a2a2a"/>
<rect x="758.9" y="504" width="13.5" height="1" fill="rgb(137,137,137)"/>
<rect x="758.9" y="505" width="13.3" height="2" fill="rgb(23,23,23)"/>
<rect x="787.8" y="505" width="2" height="4" fill="#2a2a2a"/>
<rect x="758.9" y="508" width="14.5" height="1" fill="rgb(19,19,19)"/>
<rect x="772.4" y="508" width="8.3" height="1" fill="rgb(123,123,123)"/>
<rect x="758.9" y="510" width="14.6" height="3" fill="rgb(7,7,7)"/>
<rect x="772.4" y="511" width="19.6" height="1" fill="rgb(28,28,28)"/>
<rect x="772.4" y="512" width="15.7" height="1" fill="rgb(58,58,58)"/>
<rect x="758.9" y="513" width="13.5" height="1" fill="rgb(87,87,87)"/>
<rect x="758.9" y="514" width="13.6" height="2" fill="rgb(3,3,3)"/>
<rect x="772.4" y="514" width="10.2" height="1" fill="rgb(50,50,50)"/>
<rect x="776.7" y="514" width="2" height="2" fill="#2a2a2a"/>
<rect x="758.9" y="516" width="13.5" height="2" fill="rgb(72,72,72)"/>
<rect x="781.0" y="516" width="1" height="2" fill="#2a2a2a"/>
<rect x="758.9" y="518" width="14.1" height="4" fill="rgb(29,29,29)"/>
<rect x="772.4" y="518" width="12.5" height="1" fill="rgb(35,35,35)"/>
<rect x="779.4" y="518" width="2" height="3" fill="#2a2a2a"/>
<rect x="758.8" y="522" width="13.5" height="1" fill="rgb(79,79,79)"/>
<rect x="758.8" y="523" width="14.8" height="1" fill="rgb(12,12,12)"/>
<rect x="758.8" y="524" width="13.5" height="1" fill="rgb(70,70,70)"/>
<rect x="772.3" y="524" width="7.7" height="1" fill="rgb(130,130,130)"/>
<rect x="758.8" y="525" width="14.0" height="6" fill="rgb(12,12,12)"/>
<rect x="772.3" y="525" width="8.5" height="1" fill="rgb(98,98,98)"/>
<rect x="772.3" y="527" width="8.3" height="1" fill="rgb(92,92,92)"/>
<rect x="783.7" y="528" width="2" height="2" fill="#2a2a2a"/>
<rect x="772.3" y="529" width="17.4" height="1" fill="rgb(140,140,140)"/>
<rect x="772.3" y="530" width="18.7" height="1" fill="rgb(117,117,117)"/>
<rect x="758.8" y="531" width="14.3" height="6" fill="rgb(27,27,27)"/>
<rect x="772.3" y="533" width="14.3" height="1" fill="rgb(91,91,91)"/>
<rect x="772.3" y="535" width="6.2" height="1" fill="rgb(113,113,113)"/>
<rect x="758.8" y="537" width="14.4" height="3" fill="rgb(2,2,2)"/>
<rect x="772.3" y="539" width="2.0" height="1" fill="rgb(112,112,112)"/>
<rect x="758.8" y="541" width="13.3" height="5" fill="rgb(10,10,10)"/>
<rect x="772.3" y="541" width="15.0" height="1" fill="rgb(44,44,44)"/>
<rect x="772.3" y="542" width="8.4" height="1" fill="rgb(74,74,74)"/>
<rect x="772.3" y="545" width="18.9" height="1" fill="rgb(116,116,116)"/>
<rect x="772.2" y="546" width="14.4" height="1" fill="rgb(136,136,136)"/>
<rect x="758.7" y="547" width="13.6" height="1" fill="rgb(2,2,2)"/>
<rect x="776.9" y="547" width="2" height="3" fill="#2a2a2a"/>
<rect x="758.7" y="548" width="13.5" height="1" fill="rgb(102,102,102)"/>
<rect x="772.2" y="549" width="17.8" height="1" fill="rgb(81,81,81)"/>
<rect x="758.7" y="550" width="13.7" height="1" fill="rgb(18,18,18)"/>
<rect x="758.7" y="552" width="14.6" height="2" fill="rgb(22,22,22)"/>
<rect x="772.2" y="553" width="5.4" height="1" fill="rgb(103,103,103)"/>
<rect x="772.2" y="554" width="13.1" height="1" fill="rgb(77,77,77)"/>
<rect x="772.2" y="555" width="11.3" height="1" fill="rgb(110,110,110)"/>
<rect x="772.2" y="556" width="5.0" height="1" fill="rgb(20,20,20)"/>
<rect x="758.7" y="557" width="12.7" height="1" fill="rgb(26,26,26)"/>
<rect x="772.2" y="557" width="5.2" height="1" fill="rgb(113,113,113)"/>
<rect x="758.7" y="558" width="13.5" height="1" fill="rgb(98,98,98)"/>
<rect x="758.7" y="559" width="12.6" height="1" fill="rgb(25,25,25)"/>
<rect x="772.2" y="559" width="14.4" height="1" fill="rgb(51,51,51)"/>
<rect x="758.7" y="562" width="14.7" height="1" fill="rgb(17,17,17)"/>
<rect x="772.2" y="562" width="12.8" height="1" fill="rgb(115,115,115)"/>
<rect x="758.7" y="564" width="12.8" height="6" fill="rgb(21,21,21)"/>
<rect x="772.2" y="566" width="5.9" height="1" fill="rgb(97,97,97)"/>
<rect x="772.2" y="567" width="13.3" height="1" fill="rgb(33,33,33)"/>
<rect x="781.7" y="567" width="2" height="3" fill="#2a2a2a"/>
<rect x="772.2" y="568" width="13.4" height="1" fill="rgb(66,66,66)"/>
<rect x="758.6" y="570" width="14.6" height="1" fill="rgb(14,14,14)"/>
<rect x="772.1" y="570" width="11.2" height="1" fill="rgb(101,101,101)"/>
<rect x="758.6" y="571" width="13.5" height="1" fill="rgb(122,122,122)"/>
<rect x="781.9" y="571" width="1" height="4" fill="#2a2a2a"/>
<rect x="758.6" y="572" width="14.9" height="3" fill="rgb(11,11,11)"/>
<rect x="772.1" y="572" width="16.5" height="1" fill="rgb(45,45,45)"/>
<rect x="758.6" y="575" width="13.5" height="2" fill="rgb(101,101,101)"/>
<rect x="784.8" y="576" width="2" height="3" fill="#2a2a2a"/>
<rect x="758.6" y="577" width="12.9" height="6" fill="rgb(19,19,19)"/>
<rect x="772.1" y="579" width="11.1" height="1" fill="rgb(80,80,80)"/>
<rect x="772.1" y="580" width="3.4" height="1" fill="rgb(68,68,68)"/>
<rect x="772.1" y="581" width="10.8" height="1" fill="rgb(87,87,87)"/>
<rect x="772.1" y="582" width="19.0" height="1" fill="rgb(30,30,30)"/>
<rect x="758.6" y="583" width="13.5" height="1" fill="rgb(135,135,135)"/>
<rect x="772.1" y="583" width="19.2" height="1" fill="rgb(84,84,84)"/>
<rect x="758.6" y="584" width="12.7" height="1" fill="rgb(29,29,29)"/>
<rect x="758.6" y="587" width="13.5" height="1" fill="rgb(92,92,92)"/>
<rect x="772.1" y="587" width="19.2" height="1" fill="rgb(77,77,77)"/>
<rect x="758.6" y="588" width="15.0" height="6" fill="rgb(1,1,1)"/>
<rect x="772.1" y="588" width="14.9" height="1" fill="rgb(140,140,140)"/>
<rect x="772.1" y="589" width="10.1" height="1" fill="rgb(89,89,89)"/>
<rect x="772.1" y="591" width="14.1" height="1" fill="rgb(23,23,23)"/>
<rect x="772.1" y="592" width="9.2" height="1" fill="rgb(133,133,133)"/>
<rect x="777.6" y="592" width="2" height="2" fill="#2a2a2a"/>
<rect x="772.1" y="593" width="3.4" height="1" fill="rgb(140,140,140)"/>
<rect x="781.8" y="593" width="3" height="2" fill="#2a2a2a"/>
<rect x="758.5" y="594" width="14.6" height="1" fill="rgb(24,24,24)"/>
<rect x="772.0" y="594" width="5.6" height="1" fill="rgb(116,116,116)"/>
<rect x="758.5" y="595" width="13.5" height="1" fill="rgb(160,160,160)"/>
<rect x="758.5" y="596" width="12.6" height="2" fill="rgb(23,23,23)"/>
<rect x="772.0" y="596" width="14.0" height="1" fill="rgb(111,111,111)"/>
<rect x="772.0" y="598" width="11.9" height="1" fill="rgb(92,92,92)"/>
<rect x="758.5" y="599" width="13.5" height="1" fill="rgb(121,121,121)"/>
<rect x="772.0" y="599" width="14.0" height="1" fill="rgb(34,34,34)"/>
<rect x="758.5" y="600" width="13.6" height="2" fill="rgb(16,16,16)"/>
<rect x="758.5" y="602" width="13.5" height="1" fill="rgb(130,130,130)"/>
<rect x="758.5" y="603" width="14.6" height="6" fill="rgb(18,18,18)"/>
<rect x="772.0" y="603" width="7.0" height="1" fill="rgb(59,59,59)"/>
<rect x="772.0" y="604" width="5.6" height="1" fill="rgb(108,108,108)"/>
<rect x="772.0" y="605" width="15.6" height="1" fill="rgb(139,139,139)"/>
<rect x="772.0" y="607" width="6.1" height="1" fill="rgb(77,77,77)"/>
<rect x="772.0" y="608" width="15.6" height="1" fill="rgb(104,104,104)"/>
<rect x="775.7" y="608" width="2" height="2" fill="#2a2a2a"/>
<rect x="758.5" y="609" width="14.5" height="1" fill="rgb(8,8,8)"/>
<rect x="758.5" y="610" width="13.5" height="1" fill="rgb(84,84,84)"/>
<rect x="772.0" y="610" width="19.8" height="1" fill="rgb(47,47,47)"/>
<rect x="784.1" y="610" width="2" height="2" fill="#2a2a2a"/>
<rect x="758.5" y="611" width="12.6" height="1" fill="rgb(23,23,23)"/>
<rect x="772.0" y="611" width="17.3" height="1" fill="rgb(95,95,95)"/>
<rect x="772.0" y="612" width="9.0" height="1" fill="rgb(25,25,25)"/>
<rect x="758.5" y="613" width="13.5" height="1" fill="rgb(153,153,153)"/>
<rect x="772.0" y="613" width="8.2" height="1" fill="rgb(115,115,115)"/>
<rect x="771.9" y="614" width="6.7" height="1" fill="rgb(106,106,106)"/>
<rect x="758.4" y="615" width="13.1" height="6" fill="rgb(5,5,5)"/>
<rect x="771.9" y="615" width="11.0" height="1" fill="rgb(110,110,110)"/>
<rect x="771.9" y="619" width="18.4" height="1" fill="rgb(24,24,24)"/>
<rect x="758.4" y="621" width="13.5" height="4" fill="rgb(9,9,9)"/>
<rect x="786.4" y="624" width="2" height="2" fill="#2a2a2a"/>
<rect x="758.4" y="625" width="13.5" height="1" fill="rgb(88,88,88)"/>
<rect x="771.9" y="625" width="4.6" height="1" fill="rgb(136,136,136)"/>
<rect x="758.4" y="626" width="14.9" height="6" fill="rgb(19,19,19)"/>
<rect x="771.9" y="628" width="9.7" height="1" fill="rgb(109,109,109)"/>
<rect x="771.9" y="630" width="2.6" height="1" fill="rgb(73,73,73)"/>
<rect x="758.4" y="633" width="13.5" height="1" fill="rgb(74,74,74)"/>
<rect x="758.4" y="634" width="14.0" height="2" fill="rgb(5,5,5)"/>
<rect x="758.4" y="636" width="13.5" height="2" fill="rgb(98,98,98)"/>
<rect x="771.9" y="636" width="14.9" height="1" fill="rgb(96,96,96)"/>
<rect x="758.3" y="638" width="13.1" height="1" fill="rgb(30,30,30)"/>
<rect x="771.8" y="638" width="15.6" height="1" fill="rgb(44,44,44)"/>
<rect x="783.9" y="638" width="2" height="3" fill="#2a2a2a"/>
<rect x="758.3" y="639" width="13.5" height="1" fill="rgb(138,138,138)"/>
<rect x="771.8" y="639" width="12.0" height="1" fill="rgb(121,121,121)"/>
<rect x="789.3" y="639" width="2" height="2" fill="#2a2a2a"/>
<rect x="758.3" y="640" width="14.8" height="5" fill="rgb(2,2,2)"/>
<rect x="787.4" y="640" width="2" height="3" fill="#2a2a2a"/>
<rect x="779.6" y="641" width="1" height="2" fill="#2a2a2a"/>
<rect x="771.8" y="642" width="11.0" height="1" fill="rgb(75,75,75)"/>
<rect x="787.0" y="642" width="2" height="3" fill="#2a2a2a"/>
<rect x="771.8" y="644" width="9.8" height="1" fill="rgb(121,121,121)"/>
<rect x="784.5" y="644" width="2" height="2" fill="#2a2a2a"/>
<rect x="771.8" y="645" width="14.6" height="1" fill="rgb(47,47,47)"/>
<rect x="771.8" y="646" width="8.5" height="1" fill="rgb(20,20,20)"/>
<rect x="758.3" y="647" width="12.9" height="2" fill="rgb(3,3,3)"/>
<rect x="771.8" y="647" width="7.6" height="1" fill="rgb(38,38,38)"/>
<rect x="758.3" y="650" width="13.5" height="1" fill="rgb(159,159,159)"/>
<rect x="758.3" y="651" width="13.5" height="6" fill="rgb(3,3,3)"/>
<rect x="771.8" y="652" width="4.8" height="1" fill="rgb(49,49,49)"/>
<rect x="771.8" y="653" width="3.8" height="1" fill="rgb(123,123,123)"/>
<rect x="771.8" y="654" width="2.8" height="1" fill="rgb(92,92,92)"/>
<rect x="787.0" y="654" width="2" height="3" fill="#2a2a2a"/>
<rect x="771.8" y="655" width="6.7" height="1" fill="rgb(134,134,134)"/>
<rect x="786.1" y="655" width="3" height="3" fill="#2a2a2a"/>
<rect x="758.3" y="658" width="13.5" height="4" fill="rgb(21,21,21)"/>
<rect x="771.8" y="658" width="5.3" height="1" fill="rgb(71,71,71)"/>
<rect x="771.8" y="659" width="11.2" height="1" fill="rgb(26,26,26)"/>
<rect x="771.8" y="660" width="6.3" height="1" fill="rgb(56,56,56)"/>
<rect x="758.2" y="662" width="13.5" height="1" fill="rgb(157,157,157)"/>
<rect x="758.2" y="663" width="14.2" height="1" fill="rgb(24,24,24)"/>
<rect x="771.7" y="664" width="10.3" height="1" fill="rgb(99,99,99)"/>
<rect x="758.2" y="665" width="14.6" height="4" fill="rgb(18,18,18)"/>
<rect x="771.7" y="665" width="14.3" height="1" fill="rgb(67,67,67)"/>
<rect x="771.7" y="668" width="6.8" height="1" fill="rgb(85,85,85)"/>
<rect x="758.2" y="669" width="13.5" height="2" fill="rgb(124,124,124)"/>
<rect x="771.7" y="669" width="3.1" height="1" fill="rgb(67,67,67)"/>
<rect x="782.9" y="670" width="2" height="2" fill="#2a2a2a"/>
<rect x="786.8" y="671" width="2" height="4" fill="#2a2a2a"/>
<rect x="758.2" y="672" width="14.6" height="6" fill="rgb(5,5,5)"/>
<rect x="771.7" y="674" width="18.6" height="1" fill="rgb(133,133,133)"/>
<rect x="771.7" y="675" width="6.3" height="1" fill="rgb(42,42,42)"/>
<rect x="758.2" y="678" width="14.0" height="1" fill="rgb(30,30,30)"/>
<rect x="778.4" y="678" width="2" height="2" fill="#2a2a2a"/>
<rect x="771.7" y="679" width="11.4" height="1" fill="rgb(79,79,79)"/>
<rect x="758.2" y="680" width="13.5" height="4" fill="rgb(10,10,10)"/>
<rect x="778.0" y="680" width="3" height="2" fill="#2a2a2a"/>
<rect x="771.7" y="681" width="4.4" height="1" fill="rgb(46,46,46)"/>
<rect x="781.5" y="682" width="1" height="3" fill="#2a2a2a"/>
<rect x="775.8" y="683" width="2" height="3" fill="#2a2a2a"/>
<rect x="771.6" y="684" width="5.3" height="1" fill="rgb(72,72,72)"/>
<rect x="758.1" y="686" width="13.5" height="2" fill="rgb(13,13,13)"/>
<rect x="771.6" y="686" width="13.1" height="1" fill="rgb(64,64,64)"/>
<rect x="771.6" y="688" width="17.0" height="1" fill="rgb(31,31,31)"/>
<rect x="758.1" y="689" width="13.6" height="2" fill="rgb(5,5,5)"/>
<rect x="780.7" y="689" width="2" height="4" fill="#2a2a2a"/>
<rect x="758.1" y="691" width="13.5" height="1" fill="rgb(79,79,79)"/>
<rect x="758.1" y="692" width="12.6" height="2" fill="rgb(9,9,9)"/>
<rect x="771.6" y="694" width="8.3" height="1" fill="rgb(77,77,77)"/>
<rect x="779.9" y="695" width="2" height="2" fill="#2a2a2a"/>
<rect x="758.1" y="696" width="13.2" height="5" fill="rgb(25,25,25)"/>
<rect x="771.6" y="696" width="18.4" height="1" fill="rgb(60,60,60)"/>
<rect x="771.6" y="697" width="3.8" height="1" fill="rgb(116,116,116)"/>
<rect x="771.6" y="698" width="18.4" height="1" fill="rgb(56,56,56)"/>
<rect x="771.6" y="700" width="2.5" height="1" fill="rgb(134,134,134)"/>
<rect x="771.6" y="701" width="20.1" height="1" fill="rgb(44,44,44)"/>
<rect x="783.7" y="701" width="1" height="4" fill="#2a2a2a"/>
<rect x="758.1" y="702" width="12.7" height="5" fill="rgb(21,21,21)"/>
<rect x="771.6" y="703" width="2.7" height="1" fill="rgb(54,54,54)"/>
<rect x="771.6" y="705" width="5.8" height="1" fill="rgb(103,103,103)"/>
<rect x="758.0" y="707" width="13.5" height="2" fill="rgb(131,131,131)"/>
<rect x="771.5" y="708" width="9.3" height="1" fill="rgb(103,103,103)"/>
<rect x="758.0" y="709" width="14.6" height="1" fill="rgb(18,18,18)"/>
<rect x="758.0" y="710" width="13.5" height="1" fill="rgb(128,128,128)"/>
<rect x="788.1" y="710" width="3" height="3" fill="#2a2a2a"/>
<rect x="758.0" y="711" width="14.8" height="2" fill="rgb(11,11,11)"/>
<rect x="771.5" y="713" width="5.9" height="1" fill="rgb(80,80,80)"/>
<rect x="780.0" y="713" width="2" height="3" fill="#2a2a2a"/>
<rect x="758.0" y="714" width="13.1" height="6" fill="rgb(1,1,1)"/>
<rect x="771.5" y="714" width="3.7" height="1" fill="rgb(64,64,64)"/>
<rect x="771.5" y="716" width="7.3" height="1" fill="rgb(68,68,68)"/>
<rect x="784.5" y="719" width="3" height="4" fill="#2a2a2a"/>
<rect x="758.0" y="720" width="12.6" height="1" fill="rgb(9,9,9)"/>
<rect x="771.5" y="721" width="3.2" height="1" fill="rgb(92,92,92)"/>
<rect x="758.0" y="722" width="14.3" height="1" fill="rgb(29,29,29)"/>
<rect x="771.5" y="722" width="10.5" height="1" fill="rgb(81,81,81)"/>
<rect x="771.5" y="723" width="3.1" height="1" fill="rgb(124,124,124)"/>
<rect x="758.0" y="724" width="14.8" height="1" fill="rgb(3,3,3)"/>
<rect x="771.5" y="724" width="5.4" height="1" fill="rgb(74,74,74)"/>
<rect x="771.5" y="725" width="2.4" height="1" fill="rgb(96,96,96)"/>
<rect x="758.0" y="726" width="13.1" height="4" fill="rgb(16,16,16)"/>
<rect x="778.2" y="726" width="3" height="2" fill="#2a2a2a"/>
<rect x="771.5" y="727" width="16.0" height="1" fill="rgb(85,85,85)"/>
<rect x="757.9" y="730" width="13.5" height="1" fill="rgb(140,140,140)"/>
<rect x="771.4" y="730" width="3.4" height="1" fill="rgb(34,34,34)"/>
<rect x="757.9" y="731" width="13.2" height="2" fill="rgb(23,23,23)"/>
<rect x="771.4" y="731" width="12.5" height="1" fill="rgb(36,36,36)"/>
<rect x="782.5" y="731" width="2" height="2" fill="#2a2a2a"/>
<rect x="771.4" y="732" width="3.0" height="1" fill="rgb(20,20,20)"/>
<rect x="757.9" y="733" width="13.5" height="2" fill="rgb(100,100,100)"/>
<rect x="771.4" y="733" width="20.1" height="1" fill="rgb(91,91,91)"/>
<rect x="757.9" y="735" width="15.0" height="1" fill="rgb(13,13,13)"/>
<rect x="771.4" y="735" width="3.5" height="1" fill="rgb(80,80,80)"/>
<rect x="782.6" y="735" width="1" height="3" fill="#2a2a2a"/>
<rect x="757.9" y="737" width="14.2" height="4" fill="rgb(30,30,30)"/>
<rect x="771.4" y="737" width="8.4" height="1" fill="rgb(46,46,46)"/>
<rect x="771.4" y="738" width="5.9" height="1" fill="rgb(73,73,73)"/>
<rect x="771.4" y="739" width="11.4" height="1" fill="rgb(121,121,121)"/>
<rect x="771.4" y="740" width="4.2" height="1" fill="rgb(72,72,72)"/>
<rect x="771.4" y="741" width="19.2" height="1" fill="rgb(67,67,67)"/>
<rect x="757.9" y="742" width="12.6" height="3" fill="rgb(26,26,26)"/>
<rect x="771.4" y="743" width="18.1" height="1" fill="rgb(118,118,118)"/>
<rect x="757.9" y="745" width="13.5" height="1" fill="rgb(133,133,133)"/>
<rect x="757.9" y="746" width="14.1" height="1" fill="rgb(26,26,26)"/>
<rect x="771.4" y="746" width="7.7" height="1" fill="rgb(42,42,42)"/>
<rect x="776.8" y="746" width="2" height="2" fill="#2a2a2a"/>
<rect x="757.9" y="748" width="14.5" height="3" fill="rgb(2,2,2)"/>
<rect x="771.4" y="751" width="5.0" height="1" fill="rgb(58,58,58)"/>
<rect x="777.5" y="752" width="2" height="2" fill="#2a2a2a"/>
<rect x="757.8" y="753" width="14.6" height="3" fill="rgb(11,11,11)"/>
<rect x="776.3" y="754" width="2" height="4" fill="#2a2a2a"/>
<rect x="771.3" y="755" width="5.3" height="1" fill="rgb(38,38,38)"/>
<rect x="757.8" y="757" width="12.5" height="2" fill="rgb(28,28,28)"/>
<rect x="757.8" y="760" width="13.2" height="2" fill="rgb(27,27,27)"/>
<rect x="775.8" y="761" width="1" height="2" fill="#2a2a2a"/>
<rect x="757.8" y="763" width="13.5" height="1" fill="rgb(79,79,79)"/>
<rect x="771.3" y="763" width="2.5" height="1" fill="rgb(44,44,44)"/>
<rect x="775.4" y="763" width="3" height="3" fill="#2a2a2a"/>
<rect x="774.7" y="764" width="2" height="3" fill="#2a2a2a"/>
<rect x="771.3" y="767" width="3.6" height="1" fill="rgb(42,42,42)"/>
<rect x="777.7" y="767" width="1" height="2" fill="#2a2a2a"/>
<rect x="757.8" y="768" width="14.0" height="1" fill="rgb(8,8,8)"/>
<rect x="774.8" y="776" width="2" height="4" fill="#2a2a2a"/>
<rect x="775.9" y="778" width="1" height="3" fill="#2a2a2a"/>
<rect x="771.2" y="779" width="5.3" height="1" fill="rgb(107,107,107)"/>
<rect x="757.7" y="783" width="13.4" height="3" fill="rgb(17,17,17)"/>
<rect x="771.2" y="784" width="2.5" height="1" fill="rgb(98,98,98)"/>
<rect x="771.2" y="785" width="11.6" height="1" fill="rgb(21,21,21)"/>
<rect x="757.7" y="787" width="13.4" height="4" fill="rgb(28,28,28)"/>
<rect x="781.1" y="788" width="2" height="3" fill="#2a2a2a"/>
<rect x="774.5" y="790" width="1" height="3" fill="#2a2a2a"/>
<rect x="757.7" y="792" width="13.5" height="3" fill="rgb(14,14,14)"/>
<rect x="757.7" y="796" width="13.1" height="1" fill="rgb(12,12,12)"/>
<rect x="757.7" y="797" width="13.5" height="1" fill="rgb(160,160,160)"/>
<rect x="757.6" y="798" width="14.4" height="2" fill="rgb(12,12,12)"/>
<rect x="771.1" y="799" width="11.2" height="1" fill="rgb(99,99,99)"/>
<rect x="757.6" y="800" width="13.5" height="1" fill="rgb(101,101,101)"/>
<rect x="757.6" y="801" width="12.6" height="1" fill="rgb(30,30,30)"/>
<rect x="771.1" y="801" width="12.2" height="1" fill="rgb(45,45,45)"/>
<rect x="757.6" y="802" width="13.5" height="1" fill="rgb(86,86,86)"/>
<rect x="771.1" y="802" width="8.2" height="1" fill="rgb(78,78,78)"/>
<rect x="771.1" y="803" width="6.0" height="1" fill="rgb(79,79,79)"/>
<rect x="757.6" y="805" width="13.2" height="1" fill="rgb(0,0,0)"/>
<rect x="771.1" y="805" width="7.5" height="1" fill="rgb(49,49,49)"/>
<rect x="757.6" y="807" width="13.4" height="2" fill="rgb(0,0,0)"/>
<rect x="774.3" y="807" width="2" height="2" fill="#2a2a2a"/>
<rect x="771.1" y="808" width="7.0" height="1" fill="rgb(121,121,121)"/>
<rect x="775.1" y="808" width="2" height="3" fill="#2a2a2a"/>
<rect x="757.6" y="809" width="13.5" height="1" fill="rgb(90,90,90)"/>
<rect x="779.3" y="810" width="2" height="2" fill="#2a2a2a"/>
<rect x="757.6" y="811" width="13.0" height="3" fill="rgb(6,6,6)"/>
<rect x="779.6" y="813" width="3" height="2" fill="#2a2a2a"/>
<rect x="771.1" y="815" width="4.4" height="1" fill="rgb(72,72,72)"/>
<rect x="776.6" y="815" width="1" height="4" fill="#2a2a2a"/>
<rect x="757.6" y="816" width="13.5" height="1" fill="rgb(148,148,148)"/>
<rect x="757.6" y="817" width="13.1" height="3" fill="rgb(5,5,5)"/>
<rect x="757.5" y="821" width="13.6" height="3" fill="rgb(16,16,16)"/>
<rect x="771.0" y="824" width="11.5" height="1" fill="rgb(79,79,79)"/>
<rect x="757.5" y="826" width="13.5" height="1" fill="rgb(108,108,108)"/>
<rect x="781.5" y="826" width="2" height="3" fill="#2a2a2a"/>
<rect x="757.5" y="827" width="13.3" height="2" fill="rgb(10,10,10)"/>
<rect x="771.0" y="828" width="6.3" height="1" fill="rgb(39,39,39)"/>
<rect x="774.1" y="828" width="2" height="4" fill="#2a2a2a"/>
<rect x="757.5" y="829" width="13.5" height="1" fill="rgb(156,156,156)"/>
<rect x="757.5" y="830" width="14.9" height="2" fill="rgb(1,1,1)"/>
<rect x="757.5" y="833" width="14.8" height="1" fill="rgb(28,28,28)"/>
<rect x="777.0" y="833" width="2" height="2" fill="#2a2a2a"/>
<rect x="775.3" y="838" width="2" height="3" fill="#2a2a2a"/>
<rect x="757.5" y="839" width="13.5" height="1" fill="rgb(122,122,122)"/>
<rect x="757.5" y="840" width="14.8" height="1" fill="rgb(25,25,25)"/>
<rect x="757.5" y="841" width="13.5" height="2" fill="rgb(152,152,152)"/>
<rect x="775.7" y="843" width="3" height="4" fill="#2a2a2a"/>
<rect x="782.6" y="845" width="2" height="3" fill="#2a2a2a"/>
<rect x="757.4" y="846" width="14.6" height="3" fill="rgb(25,25,25)"/>
<rect x="757.4" y="849" width="13.5" height="1" fill="rgb(84,84,84)"/>
<rect x="757.4" y="850" width="13.2" height="2" fill="rgb(10,10,10)"/>
<rect x="757.4" y="853" width="13.7" height="6" fill="rgb(5,5,5)"/>
<rect x="770.9" y="853" width="8.0" height="1" fill="rgb(58,58,58)"/>
<rect x="770.9" y="857" width="14.3" height="1" fill="rgb(128,128,128)"/>
<rect x="757.4" y="859" width="13.3" height="1" fill="rgb(0,0,0)"/>
<rect x="770.9" y="860" width="12.6" height="1" fill="rgb(74,74,74)"/>
<rect x="757.4" y="861" width="14.7" height="1" fill="rgb(24,24,24)"/>
<rect x="770.9" y="861" width="7.5" height="1" fill="rgb(32,32,32)"/>
<rect x="757.4" y="862" width="13.5" height="2" fill="rgb(82,82,82)"/>
<rect x="757.4" y="864" width="12.8" height="2" fill="rgb(21,21,21)"/>
<rect x="770.9" y="865" width="13.9" height="1" fill="rgb(27,27,27)"/>
<rect x="776.3" y="866" width="1" height="3" fill="#2a2a2a"/>
<rect x="757.3" y="868" width="13.1" height="1" fill="rgb(6,6,6)"/>
<rect x="770.8" y="868" width="11.4" height="1" fill="rgb(44,44,44)"/>
<rect x="775.3" y="868" width="2" height="2" fill="#2a2a2a"/>
<rect x="770.8" y="869" width="9.4" height="1" fill="rgb(66,66,66)"/>
<rect x="757.3" y="870" width="13.1" height="6" fill="rgb(17,17,17)"/>
<rect x="770.8" y="870" width="7.7" height="1" fill="rgb(65,65,65)"/>
<rect x="777.7" y="870" width="3" height="4" fill="#2a2a2a"/>
<rect x="770.8" y="872" width="8.1" height="1" fill="rgb(36,36,36)"/>
<rect x="770.8" y="875" width="10.3" height="1" fill="rgb(20,20,20)"/>
<rect x="757.3" y="876" width="14.5" height="6" fill="rgb(9,9,9)"/>
<rect x="770.8" y="879" width="11.1" height="1" fill="rgb(82,82,82)"/>
<rect x="783.3" y="879" width="3" height="4" fill="#2a2a2a"/>
<rect x="776.0" y="881" width="1" height="2" fill="#2a2a2a"/>
<rect x="757.3" y="882" width="13.5" height="1" fill="rgb(134,134,134)"/>
<rect x="757.3" y="884" width="14.1" height="6" fill="rgb(30,30,30)"/>
<rect x="770.8" y="888" width="12.4" height="1" fill="rgb(64,64,64)"/>
<rect x="770.8" y="889" width="7.3" height="1" fill="rgb(47,47,47)"/>
<rect x="757.2" y="890" width="13.4" height="6" fill="rgb(26,26,26)"/>
<rect x="770.7" y="892" width="10.9" height="1" fill="rgb(129,129,129)"/>
<rect x="757.2" y="896" width="13.1" height="2" fill="rgb(15,15,15)"/>
<rect x="770.7" y="897" width="15.3" height="1" fill="rgb(88,88,88)"/>
<rect x="757.2" y="898" width="13.5" height="1" fill="rgb(113,113,113)"/>
<rect x="770.7" y="898" width="3.1" height="1" fill="rgb(93,93,93)"/>
<rect x="757.2" y="899" width="14.3" height="3" fill="rgb(5,5,5)"/>
<rect x="770.7" y="900" width="6.4" height="1" fill="rgb(56,56,56)"/>
<rect x="770.7" y="901" width="13.8" height="1" fill="rgb(53,53,53)"/>
<rect x="757.2" y="904" width="13.1" height="6" fill="rgb(25,25,25)"/>
<rect x="770.7" y="904" width="13.6" height="1" fill="rgb(79,79,79)"/>
<rect x="770.7" y="906" width="3.3" height="1" fill="rgb(84,84,84)"/>
<rect x="782.6" y="908" width="1" height="4" fill="#2a2a2a"/>
<rect x="782.4" y="909" width="2" height="3" fill="#2a2a2a"/>
<rect x="757.2" y="911" width="13.5" height="1" fill="rgb(151,151,151)"/>
<rect x="770.7" y="911" width="9.9" height="1" fill="rgb(115,115,115)"/>
<rect x="757.2" y="912" width="13.4" height="6" fill="rgb(16,16,16)"/>
<rect x="770.7" y="915" width="5.8" height="1" fill="rgb(36,36,36)"/>
<rect x="770.7" y="916" width="13.8" height="1" fill="rgb(118,118,118)"/>
<rect x="757.1" y="918" width="13.5" height="2" fill="rgb(27,27,27)"/>
<rect x="770.6" y="919" width="5.4" height="1" fill="rgb(62,62,62)"/>
<rect x="757.1" y="920" width="13.5" height="1" fill="rgb(136,136,136)"/>
<rect x="757.1" y="921" width="14.3" height="2" fill="rgb(8,8,8)"/>
<rect x="770.6" y="922" width="5.2" height="1" fill="rgb(47,47,47)"/>
<rect x="757.1" y="923" width="13.5" height="1" fill="rgb(71,71,71)"/>
<rect x="770.6" y="923" width="12.6" height="1" fill="rgb(28,28,28)"/>
<rect x="757.1" y="924" width="14.6" height="1" fill="rgb(17,17,17)"/>
<rect x="757.1" y="925" width="13.5" height="2" fill="rgb(120,120,120)"/>
<rect x="770.6" y="925" width="9.9" height="1" fill="rgb(53,53,53)"/>
<rect x="770.6" y="926" width="5.2" height="1" fill="rgb(72,72,72)"/>
<rect x="757.1" y="927" width="14.5" height="6" fill="rgb(29,29,29)"/>
<rect x="770.6" y="929" width="14.7" height="1" fill="rgb(67,67,67)"/>
<rect x="770.6" y="930" width="13.0" height="1" fill="rgb(34,34,34)"/>
<rect x="778.2" y="930" width="3" height="3" fill="#2a2a2a"/>
<rect x="770.6" y="931" width="2.5" height="1" fill="rgb(104,104,104)"/>
<rect x="770.6" y="932" width="9.2" height="1" fill="rgb(85,85,85)"/>
<rect x="757.1" y="933" width="13.3" height="1" fill="rgb(18,18,18)"/>
<rect x="757.1" y="934" width="13.5" height="1" fill="rgb(112,112,112)"/>
<rect x="770.6" y="934" width="8.6" height="1" fill="rgb(74,74,74)"/>
<rect x="757.1" y="935" width="12.5" height="2" fill="rgb(11,11,11)"/>
<rect x="770.6" y="935" width="7.4" height="1" fill="rgb(137,137,137)"/>
<rect x="779.2" y="935" width="1" height="2" fill="#2a2a2a"/>
<rect x="757.0" y="937" width="13.5" height="1" fill="rgb(98,98,98)"/>
<rect x="757.0" y="938" width="15.0" height="3" fill="rgb(5,5,5)"/>
<rect x="770.5" y="939" width="5.1" height="1" fill="rgb(76,76,76)"/>
<rect x="777.9" y="941" width="2" height="2" fill="#2a2a2a"/>
<rect x="757.0" y="942" width="14.8" height="4" fill="rgb(19,19,19)"/>
<rect x="770.5" y="946" width="3.0" height="1" fill="rgb(126,126,126)"/>
<rect x="757.0" y="947" width="14.4" height="6" fill="rgb(27,27,27)"/>
<rect x="770.5" y="947" width="3.5" height="1" fill="rgb(126,126,126)"/>
<rect x="770.5" y="948" width="10.9" height="1" fill="rgb(21,21,21)"/>
<rect x="770.5" y="949" width="8.6" height="1" fill="rgb(109,109,109)"/>
<rect x="770.5" y="950" width="15.4" height="1" fill="rgb(73,73,73)"/>
<rect x="770.5" y="951" width="11.5" height="1" fill="rgb(77,77,77)"/>
<rect x="757.0" y="953" width="14.4" height="2" fill="rgb(28,28,28)"/>
<rect x="770.5" y="953" width="14.3" height="1" fill="rgb(139,139,139)"/>
<rect x="770.5" y="954" width="12.6" height="1" fill="rgb(104,104,104)"/>
<rect x="783.0" y="954" width="3" height="2" fill="#2a2a2a"/>
<rect x="757.0" y="955" width="13.5" height="1" fill="rgb(135,135,135)"/>
<rect x="782.0" y="955" width="3" height="2" fill="#2a2a2a"/>
<rect x="757.0" y="956" width="12.6" height="1" fill="rgb(26,26,26)"/>
<rect x="757.0" y="957" width="13.5" height="1" fill="rgb(156,156,156)"/>
<rect x="773.9" y="957" width="2" height="2" fill="#2a2a2a"/>
<rect x="757.0" y="958" width="14.6" height="3" fill="rgb(29,29,29)"/>
<rect x="770.5" y="958" width="13.0" height="1" fill="rgb(89,89,89)"/>
<rect x="774.6" y="960" width="1" height="3" fill="#2a2a2a"/>
<rect x="756.9" y="961" width="13.5" height="1" fill="rgb(86,86,86)"/>
<rect x="756.9" y="962" width="12.9" height="4" fill="rgb(16,16,16)"/>
<rect x="756.9" y="966" width="13.5" height="1" fill="rgb(95,95,95)"/>
<rect x="770.4" y="966" width="3.4" height="1" fill="rgb(110,110,110)"/>
<rect x="756.9" y="967" width="12.7" height="4" fill="rgb(26,26,26)"/>
<rect x="770.4" y="967" width="11.0" height="1" fill="rgb(23,23,23)"/>
<rect x="770.4" y="969" width="10.1" height="1" fill="rgb(45,45,45)"/>
<rect x="756.9" y="971" width="13.5" height="1" fill="rgb(139,139,139)"/>
<rect x="778.3" y="972" width="1" height="2" fill="#2a2a2a"/>
<rect x="756.9" y="973" width="14.3" height="3" fill="rgb(25,25,25)"/>
<rect x="778.1" y="974" width="1" height="4" fill="#2a2a2a"/>
<rect x="756.9" y="977" width="14.8" height="1" fill="rgb(23,23,23)"/>
<rect x="756.9" y="978" width="13.5" height="1" fill="rgb(151,151,151)"/>
<rect x="770.4" y="978" width="10.2" height="1" fill="rgb(69,69,69)"/>
<rect x="782.8" y="978" width="3" height="4" fill="#2a2a2a"/>
<rect x="756.9" y="980" width="13.0" height="6" fill="rgb(3,3,3)"/>
<rect x="770.4" y="983" width="5.9" height="1" fill="rgb(66,66,66)"/>
<rect x="779.4" y="984" width="2" height="4" fill="#2a2a2a"/>
<rect x="780.3" y="985" width="2" height="2" fill="#2a2a2a"/>
<rect x="756.8" y="986" width="14.0" height="4" fill="rgb(27,27,27)"/>
<rect x="770.3" y="986" width="2.7" height="1" fill="rgb(56,56,56)"/>
<rect x="778.5" y="987" width="2" height="4" fill="#2a2a2a"/>
<rect x="770.3" y="989" width="6.2" height="1" fill="rgb(67,67,67)"/>
<rect x="756.8" y="990" width="13.5" height="2" fill="rgb(118,118,118)"/>
<rect x="770.3" y="991" width="6.2" height="1" fill="rgb(57,57,57)"/>
<rect x="756.8" y="992" width="12.9" height="1" fill="rgb(20,20,20)"/>
<rect x="757" y="1009" width="23" height="3" fill="#111"/>
<rect x="730" y="153" width="6" height="1" fill="#888"/>
<rect x="729" y="165.5" width="8" height="1" fill="#ccc"/>
<rect x="727" y="273.5" width="6" height="1" fill="#bbb"/>
<rect x="717" y="774" width="6" height="1" fill="#ccc"/>
<rect x="716" y="834" width="8" height="1" fill="#ccc"/>
<rect x="719" y="862" width="4" height="1" fill="#ccc"/>
<rect x="718" y="875" width="5" height="1" fill="#ccc"/>
<rect x="716" y="887" width="6" height="1" fill="#ccc"/>
<rect x="440" y="999" width="14" height="1" fill="#ccc"/>
<rect x="530" y="1000" width="10" height="1" fill="#ccc"/>
<rect x="590" y="1001" width="8" height="1" fill="#aaa"/>
<rect x="640" y="1002" width="10" height="1" fill="#bbb"/>
<rect x="690" y="999" width="10" height="1" fill="#ccc"/>
</svg></body></html>
